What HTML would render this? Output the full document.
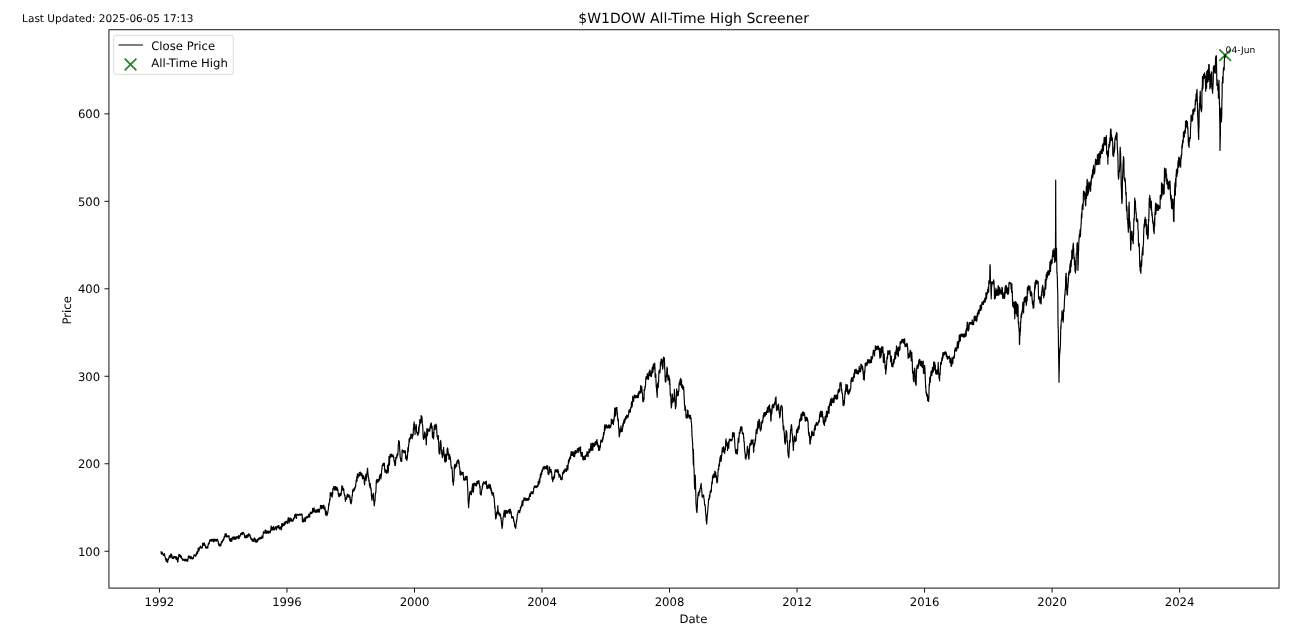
<!DOCTYPE html>
<html lang="en">
<head>
<meta charset="utf-8">
<title>$W1DOW All-Time High Screener</title>
<style>
html,body{margin:0;padding:0;background:#fff;}
body{width:1292px;height:634px;overflow:hidden;}
svg{display:block;}
text{font-family:"DejaVu Sans","Liberation Sans",sans-serif;fill:#000;text-rendering:geometricPrecision;}
.t10{font-size:11.67px;}
.t9{font-size:10.5px;}
.t12{font-size:14px;}
.t8{font-size:9.1px;}
.sp{stroke:#000;stroke-width:0.92;fill:none;}
</style>
</head>
<body>
<svg width="1292" height="634" viewBox="0 0 1292 634">
<rect x="0" y="0" width="1292" height="634" fill="#fff"/>
<!-- axes frame -->
<rect class="sp" x="108.94" y="29.75" width="1170.09" height="558.35"/>
<!-- x ticks -->
<g class="sp">
<path d="M159.45,588.1v4.5M286.97,588.1v4.5M414.49,588.1v4.5M542.01,588.1v4.5M669.53,588.1v4.5M797.05,588.1v4.5M924.57,588.1v4.5M1052.09,588.1v4.5M1179.61,588.1v4.5"/>
<path d="M108.94,551.24h-4.5M108.94,463.76h-4.5M108.94,376.28h-4.5M108.94,288.80h-4.5M108.94,201.33h-4.5M108.94,113.85h-4.5"/>
</g>
<g class="t10" text-anchor="middle">
<text x="159.45" y="605.6">1992</text>
<text x="286.97" y="605.6">1996</text>
<text x="414.49" y="605.6">2000</text>
<text x="542.01" y="605.6">2004</text>
<text x="669.53" y="605.6">2008</text>
<text x="797.05" y="605.6">2012</text>
<text x="924.57" y="605.6">2016</text>
<text x="1052.09" y="605.6">2020</text>
<text x="1179.61" y="605.6">2024</text>
<text x="693.4" y="623.1">Date</text>
</g>
<g class="t10" text-anchor="end">
<text x="100.2" y="555.64">100</text>
<text x="100.2" y="468.16">200</text>
<text x="100.2" y="380.68">300</text>
<text x="100.2" y="293.20">400</text>
<text x="100.2" y="205.73">500</text>
<text x="100.2" y="118.25">600</text>
</g>
<text class="t10" text-anchor="middle" transform="translate(70.9,310.4) rotate(-90)">Price</text>
<text class="t12" text-anchor="middle" x="693.6" y="22.8">$W1DOW All-Time High Screener</text>
<text class="t9" x="22.1" y="21.9">Last Updated: 2025-06-05 17:13</text>
<!-- all-time high marker -->
<path d="M1219.32,49.32l11.66,11.66M1219.32,60.98l11.66,-11.66" stroke="#1e8c1e" stroke-width="1.75" fill="none"/>
<!-- price line -->
<path id="price" fill="none" stroke="#000" stroke-width="1.17" stroke-linejoin="round" stroke-linecap="square" d="M161.1,551.9 161.2,553.1 161.4,554.2 161.5,553.7 161.6,553.3 161.7,552.8 161.9,553.3 162.0,553.2 162.1,553.8 162.2,552.0 162.4,553.5 162.5,553.3 162.6,553.9 162.7,553.7 162.9,553.3 163.0,553.7 163.1,554.4 163.2,554.2 163.4,555.5 163.5,555.3 163.6,554.6 163.8,555.6 163.9,555.7 164.0,554.6 164.1,554.5 164.3,554.8 164.4,554.4 164.5,553.7 164.6,554.4 164.8,555.9 164.9,556.3 165.0,556.3 165.1,557.3 165.3,557.4 165.4,558.1 165.5,559.3 165.6,559.4 165.8,559.0 165.9,559.6 166.0,560.1 166.2,561.4 166.3,560.6 166.4,560.3 166.5,559.9 166.7,558.7 166.8,559.1 166.9,559.8 167.0,559.5 167.2,561.0 167.3,562.0 167.4,562.0 167.5,562.5 167.7,561.1 167.8,561.3 167.9,561.5 168.0,559.6 168.2,559.6 168.3,559.1 168.4,559.4 168.5,558.7 168.7,558.4 168.8,558.4 168.9,557.3 169.1,556.8 169.2,556.7 169.3,555.8 169.4,556.3 169.6,556.4 169.7,555.7 169.8,555.9 169.9,556.5 170.1,557.7 170.2,555.8 170.3,556.1 170.4,556.1 170.6,555.5 170.7,554.1 170.8,554.8 170.9,555.4 171.1,556.7 171.2,555.3 171.3,555.1 171.5,554.1 171.6,554.4 171.7,555.8 171.8,557.8 172.0,556.3 172.1,555.8 172.2,556.6 172.3,558.1 172.5,558.5 172.6,558.0 172.7,558.3 172.8,558.4 173.0,558.3 173.1,557.8 173.2,558.2 173.3,558.6 173.5,558.1 173.6,556.7 173.7,556.7 173.8,556.8 174.0,556.3 174.1,557.8 174.2,556.9 174.4,556.7 174.5,557.5 174.6,557.3 174.7,556.6 174.9,557.6 175.0,556.7 175.1,557.9 175.2,556.9 175.4,557.6 175.5,557.1 175.6,557.0 175.7,556.8 175.9,557.2 176.0,558.3 176.1,558.5 176.2,559.5 176.4,559.3 176.5,559.7 176.6,558.0 176.8,556.9 176.9,557.8 177.0,557.4 177.1,558.1 177.3,558.7 177.4,560.0 177.5,560.9 177.6,562.0 177.8,562.0 177.9,561.6 178.0,561.1 178.1,559.6 178.3,558.7 178.4,558.2 178.5,557.9 178.6,557.2 178.8,555.0 178.9,554.5 179.0,554.4 179.1,554.7 179.3,554.8 179.4,554.9 179.5,556.0 179.7,554.7 179.8,554.5 179.9,555.3 180.0,556.7 180.2,555.5 180.3,555.4 180.4,556.1 180.5,556.8 180.7,557.2 180.8,557.6 180.9,556.5 181.0,556.5 181.2,556.1 181.3,556.4 181.4,556.2 181.5,556.9 181.7,557.9 181.8,558.4 181.9,558.9 182.1,559.2 182.2,559.0 182.3,559.0 182.4,558.8 182.6,559.4 182.7,559.6 182.8,560.3 182.9,559.3 183.1,560.3 183.2,559.9 183.3,559.4 183.4,559.5 183.6,559.8 183.7,559.3 183.8,559.4 183.9,560.1 184.1,559.0 184.2,559.0 184.3,559.9 184.4,559.8 184.6,560.9 184.7,559.5 184.8,560.8 185.0,560.4 185.1,559.9 185.2,561.0 185.3,560.8 185.5,559.9 185.6,559.4 185.7,559.2 185.8,559.5 186.0,559.7 186.1,560.0 186.2,559.9 186.3,560.5 186.5,559.8 186.6,560.5 186.7,559.4 186.8,559.7 187.0,561.1 187.1,560.8 187.2,561.3 187.4,560.8 187.5,561.3 187.6,561.2 187.7,561.2 187.9,559.1 188.0,559.2 188.1,558.2 188.2,557.5 188.4,556.2 188.5,556.9 188.6,557.8 188.7,557.1 188.9,555.9 189.0,555.8 189.1,556.7 189.2,557.2 189.4,557.1 189.5,556.7 189.6,557.1 189.7,556.8 189.9,556.3 190.0,557.1 190.1,558.5 190.3,558.7 190.4,558.7 190.5,558.4 190.6,558.3 190.8,556.8 190.9,557.2 191.0,556.6 191.1,556.4 191.3,557.0 191.4,557.9 191.5,557.6 191.6,558.2 191.8,558.7 191.9,558.0 192.0,558.4 192.1,558.6 192.3,558.4 192.4,558.8 192.5,557.9 192.6,558.7 192.8,558.9 192.9,558.7 193.0,557.5 193.2,558.4 193.3,558.5 193.4,557.3 193.5,557.6 193.7,557.1 193.8,555.2 193.9,555.5 194.0,555.5 194.2,555.1 194.3,555.1 194.4,555.3 194.5,555.0 194.7,555.4 194.8,555.4 194.9,555.3 195.0,555.4 195.2,555.7 195.3,554.9 195.4,556.2 195.6,556.3 195.7,555.9 195.8,556.1 195.9,555.5 196.1,555.6 196.2,554.8 196.3,555.0 196.4,553.3 196.6,554.4 196.7,553.8 196.8,552.2 196.9,551.9 197.1,551.5 197.2,551.5 197.3,552.7 197.4,552.5 197.6,553.6 197.7,552.3 197.8,551.7 197.9,551.6 198.1,549.6 198.2,548.2 198.3,548.4 198.5,548.1 198.6,549.4 198.7,548.5 198.8,548.4 199.0,550.9 199.1,549.9 199.2,548.8 199.3,548.5 199.5,548.2 199.6,548.7 199.7,548.6 199.8,547.6 200.0,546.5 200.1,546.5 200.2,547.5 200.3,547.0 200.5,546.3 200.6,546.1 200.7,546.7 200.9,546.9 201.0,547.5 201.1,548.0 201.2,547.8 201.4,547.3 201.5,547.3 201.6,548.1 201.7,548.0 201.9,547.6 202.0,547.9 202.1,548.1 202.2,547.8 202.4,546.6 202.5,545.6 202.6,543.6 202.7,543.2 202.9,543.5 203.0,543.1 203.1,543.8 203.2,543.9 203.4,544.0 203.5,544.9 203.6,545.5 203.8,545.2 203.9,543.9 204.0,543.8 204.1,543.1 204.3,544.5 204.4,543.4 204.5,543.0 204.6,544.5 204.8,544.9 204.9,545.6 205.0,544.6 205.1,545.6 205.3,545.6 205.4,546.5 205.5,547.5 205.6,547.7 205.8,547.5 205.9,548.2 206.0,547.8 206.2,547.9 206.3,547.1 206.4,547.6 206.5,547.8 206.7,546.9 206.8,546.6 206.9,547.3 207.0,548.1 207.2,548.1 207.3,548.1 207.4,547.6 207.5,547.3 207.7,546.6 207.8,546.4 207.9,547.9 208.0,545.3 208.2,544.3 208.3,544.2 208.4,543.2 208.5,543.1 208.7,544.3 208.8,544.2 208.9,544.1 209.1,544.0 209.2,542.7 209.3,542.8 209.4,542.1 209.6,540.8 209.7,540.2 209.8,539.8 209.9,539.8 210.1,540.1 210.2,541.1 210.3,540.1 210.4,539.8 210.6,540.7 210.7,540.9 210.8,540.8 210.9,540.9 211.1,540.2 211.2,539.7 211.3,541.0 211.5,540.7 211.6,540.6 211.7,541.1 211.8,540.2 212.0,539.2 212.1,539.7 212.2,539.9 212.3,539.7 212.5,539.7 212.6,539.5 212.7,540.8 212.8,540.4 213.0,540.2 213.1,540.4 213.2,539.2 213.3,541.0 213.5,541.9 213.6,541.5 213.7,541.5 213.8,540.9 214.0,541.6 214.1,539.4 214.2,539.4 214.4,539.5 214.5,539.3 214.6,540.4 214.7,539.6 214.9,539.5 215.0,539.3 215.1,540.0 215.2,540.7 215.4,539.8 215.5,539.7 215.6,539.7 215.7,540.2 215.9,539.9 216.0,539.9 216.1,541.1 216.2,539.3 216.4,540.1 216.5,540.2 216.6,539.9 216.8,540.9 216.9,540.1 217.0,539.5 217.1,539.3 217.3,539.4 217.4,540.1 217.5,539.6 217.6,539.3 217.8,540.7 217.9,540.9 218.0,540.8 218.1,541.5 218.3,542.3 218.4,544.0 218.5,543.3 218.6,545.0 218.8,545.2 218.9,543.6 219.0,544.2 219.1,543.8 219.3,544.7 219.4,544.1 219.5,545.9 219.7,545.7 219.8,545.0 219.9,544.6 220.0,545.8 220.2,546.0 220.3,545.5 220.4,544.1 220.5,545.3 220.7,545.9 220.8,545.5 220.9,545.7 221.0,544.6 221.2,543.5 221.3,542.6 221.4,542.5 221.5,541.3 221.7,541.7 221.8,542.1 221.9,541.9 222.1,542.6 222.2,541.9 222.3,541.4 222.4,541.5 222.6,541.1 222.7,541.5 222.8,539.8 222.9,540.9 223.1,539.7 223.2,539.1 223.3,540.5 223.4,540.3 223.6,539.3 223.7,539.2 223.8,539.7 223.9,538.5 224.1,537.8 224.2,536.5 224.3,537.5 224.4,537.5 224.6,537.2 224.7,537.5 224.8,536.2 225.0,535.0 225.1,533.7 225.2,534.1 225.3,534.2 225.5,534.6 225.6,534.7 225.7,535.1 225.8,534.8 226.0,536.2 226.1,536.6 226.2,535.3 226.3,533.9 226.5,535.3 226.6,535.5 226.7,535.4 226.8,536.8 227.0,536.5 227.1,536.6 227.2,536.5 227.4,536.1 227.5,536.5 227.6,536.4 227.7,536.6 227.9,536.8 228.0,536.3 228.1,536.6 228.2,536.1 228.4,536.5 228.5,536.3 228.6,536.4 228.7,536.7 228.9,536.5 229.0,535.6 229.1,536.2 229.2,538.3 229.4,538.4 229.5,540.0 229.6,540.6 229.7,539.6 229.9,539.6 230.0,538.8 230.1,539.9 230.3,538.9 230.4,540.6 230.5,541.5 230.6,539.5 230.8,540.7 230.9,539.9 231.0,541.1 231.1,539.3 231.3,539.7 231.4,538.1 231.5,538.7 231.6,539.3 231.8,540.7 231.9,541.2 232.0,538.8 232.1,539.3 232.3,538.3 232.4,538.2 232.5,538.2 232.6,538.8 232.8,537.2 232.9,537.7 233.0,537.9 233.2,536.8 233.3,537.8 233.4,539.1 233.5,538.5 233.7,538.5 233.8,538.7 233.9,539.0 234.0,537.5 234.2,537.4 234.3,537.2 234.4,537.2 234.5,538.5 234.7,539.3 234.8,537.6 234.9,537.3 235.0,536.8 235.2,537.4 235.3,537.4 235.4,538.8 235.6,539.2 235.7,538.1 235.8,539.1 235.9,538.4 236.1,538.1 236.2,537.7 236.3,538.9 236.4,537.1 236.6,536.7 236.7,537.1 236.8,537.4 236.9,536.7 237.1,536.8 237.2,536.9 237.3,536.6 237.4,536.9 237.6,537.8 237.7,538.0 237.8,537.8 237.9,537.6 238.1,536.8 238.2,537.0 238.3,538.4 238.5,536.6 238.6,535.5 238.7,535.5 238.8,538.1 239.0,538.7 239.1,538.1 239.2,538.3 239.3,537.3 239.5,536.0 239.6,536.1 239.7,536.4 239.8,535.8 240.0,536.4 240.1,536.1 240.2,536.1 240.3,535.3 240.5,534.0 240.6,535.0 240.7,533.7 240.9,534.7 241.0,533.4 241.1,534.3 241.2,534.4 241.4,533.9 241.5,532.9 241.6,533.2 241.7,533.2 241.9,533.5 242.0,534.0 242.1,533.2 242.2,534.6 242.4,532.7 242.5,533.0 242.6,534.3 242.7,532.7 242.9,533.5 243.0,533.3 243.1,532.3 243.2,532.3 243.4,532.8 243.5,533.1 243.6,533.0 243.8,533.1 243.9,533.4 244.0,533.3 244.1,534.2 244.3,535.2 244.4,534.7 244.5,534.8 244.6,537.5 244.8,537.6 244.9,537.7 245.0,535.6 245.1,535.6 245.3,536.9 245.4,536.2 245.5,537.3 245.6,537.7 245.8,537.5 245.9,537.7 246.0,536.9 246.2,536.3 246.3,535.5 246.4,536.8 246.5,536.0 246.7,535.3 246.8,537.6 246.9,536.9 247.0,537.6 247.2,537.1 247.3,534.9 247.4,534.8 247.5,535.0 247.7,535.6 247.8,535.1 247.9,535.9 248.0,536.9 248.2,535.2 248.3,536.2 248.4,535.9 248.5,534.6 248.7,533.7 248.8,535.4 248.9,534.0 249.1,534.6 249.2,535.1 249.3,535.5 249.4,535.5 249.6,534.4 249.7,535.9 249.8,535.5 249.9,535.6 250.1,535.5 250.2,535.3 250.3,536.7 250.4,537.7 250.6,537.5 250.7,537.1 250.8,537.1 250.9,538.8 251.1,539.2 251.2,539.1 251.3,539.1 251.5,539.5 251.6,538.5 251.7,539.7 251.8,539.1 252.0,538.7 252.1,540.3 252.2,540.8 252.3,541.1 252.5,540.7 252.6,541.0 252.7,540.3 252.8,541.2 253.0,539.6 253.1,540.6 253.2,541.3 253.3,540.6 253.5,540.5 253.6,539.6 253.7,540.3 253.8,541.3 254.0,539.6 254.1,538.4 254.2,537.8 254.4,538.2 254.5,538.0 254.6,538.8 254.7,539.6 254.9,539.2 255.0,538.3 255.1,540.2 255.2,542.0 255.4,541.2 255.5,540.1 255.6,539.6 255.7,541.3 255.9,541.5 256.0,541.1 256.1,541.6 256.2,541.3 256.4,542.3 256.5,542.2 256.6,541.5 256.8,541.0 256.9,540.0 257.0,540.2 257.1,539.6 257.3,541.9 257.4,541.6 257.5,541.3 257.6,539.8 257.8,539.0 257.9,539.4 258.0,539.1 258.1,539.8 258.3,540.1 258.4,539.0 258.5,539.7 258.6,539.8 258.8,539.6 258.9,538.4 259.0,539.1 259.1,537.8 259.3,538.1 259.4,537.7 259.5,538.5 259.7,538.8 259.8,539.1 259.9,538.4 260.0,538.3 260.2,538.3 260.3,537.4 260.4,538.8 260.5,538.8 260.7,538.0 260.8,537.4 260.9,537.7 261.0,538.0 261.2,537.9 261.3,538.7 261.4,537.8 261.5,538.1 261.7,538.2 261.8,537.4 261.9,535.9 262.1,536.0 262.2,536.0 262.3,536.3 262.4,538.1 262.6,537.2 262.7,537.9 262.8,538.0 262.9,537.4 263.1,535.0 263.2,533.5 263.3,533.1 263.4,531.6 263.6,532.5 263.7,532.2 263.8,532.2 263.9,532.9 264.1,532.4 264.2,532.8 264.3,533.0 264.4,532.4 264.6,533.1 264.7,531.8 264.8,531.8 265.0,531.1 265.1,530.8 265.2,529.9 265.3,531.8 265.5,530.4 265.6,531.0 265.7,531.9 265.8,532.7 266.0,533.4 266.1,532.1 266.2,533.2 266.3,533.4 266.5,532.3 266.6,532.8 266.7,531.6 266.8,530.7 267.0,530.8 267.1,532.7 267.2,532.6 267.4,532.7 267.5,532.3 267.6,532.8 267.7,532.8 267.9,532.1 268.0,533.1 268.1,531.4 268.2,533.2 268.4,531.4 268.5,532.8 268.6,533.2 268.7,533.2 268.9,531.4 269.0,531.2 269.1,532.1 269.2,532.4 269.4,532.1 269.5,532.3 269.6,531.7 269.7,532.2 269.9,531.0 270.0,532.7 270.1,531.5 270.3,532.7 270.4,530.8 270.5,531.3 270.6,530.4 270.8,530.6 270.9,529.9 271.0,527.3 271.1,526.1 271.3,526.2 271.4,527.0 271.5,528.1 271.6,529.1 271.8,529.2 271.9,529.9 272.0,529.3 272.1,529.7 272.3,528.4 272.4,527.4 272.5,528.5 272.6,528.3 272.8,528.4 272.9,530.0 273.0,528.9 273.2,528.7 273.3,529.2 273.4,527.4 273.5,526.4 273.7,527.3 273.8,528.9 273.9,529.8 274.0,528.4 274.2,528.0 274.3,529.3 274.4,529.0 274.5,529.1 274.7,529.8 274.8,528.6 274.9,527.9 275.0,528.5 275.2,527.8 275.3,527.6 275.4,528.1 275.6,526.9 275.7,526.7 275.8,528.0 275.9,526.8 276.1,527.6 276.2,527.2 276.3,529.5 276.4,529.9 276.6,528.8 276.7,527.2 276.8,526.7 276.9,526.7 277.1,526.1 277.2,526.0 277.3,526.9 277.4,526.4 277.6,526.0 277.7,526.0 277.8,526.0 277.9,527.1 278.1,527.8 278.2,526.6 278.3,526.4 278.5,527.1 278.6,525.7 278.7,526.5 278.8,527.5 279.0,525.7 279.1,528.5 279.2,528.7 279.3,528.6 279.5,528.9 279.6,528.0 279.7,527.7 279.8,528.6 280.0,529.2 280.1,528.6 280.2,528.0 280.3,527.6 280.5,526.9 280.6,527.0 280.7,527.7 280.9,527.0 281.0,527.0 281.1,528.1 281.2,529.3 281.4,529.7 281.5,529.8 281.6,527.4 281.7,523.6 281.9,526.1 282.0,527.1 282.1,527.0 282.2,524.8 282.4,523.7 282.5,524.8 282.6,525.6 282.7,526.0 282.9,525.0 283.0,524.9 283.1,524.0 283.2,524.2 283.4,525.6 283.5,524.3 283.6,524.3 283.8,524.1 283.9,524.6 284.0,524.5 284.1,523.7 284.3,522.0 284.4,523.6 284.5,525.2 284.6,523.4 284.8,524.1 284.9,524.8 285.0,523.2 285.1,522.7 285.3,523.3 285.4,523.8 285.5,521.8 285.6,521.9 285.8,521.7 285.9,521.7 286.0,521.5 286.2,521.0 286.3,521.6 286.4,521.6 286.5,521.7 286.7,522.6 286.8,522.9 286.9,521.5 287.0,521.6 287.2,521.6 287.3,523.2 287.4,523.4 287.5,523.6 287.7,523.1 287.8,522.0 287.9,519.2 288.0,521.1 288.2,518.5 288.3,517.6 288.4,517.9 288.5,517.9 288.7,518.2 288.8,518.6 288.9,519.8 289.1,519.7 289.2,522.9 289.3,521.1 289.4,520.9 289.6,519.9 289.7,518.7 289.8,518.6 289.9,518.1 290.1,519.1 290.2,518.2 290.3,518.2 290.4,520.7 290.6,520.8 290.7,520.6 290.8,521.1 290.9,520.8 291.1,521.1 291.2,520.0 291.3,519.9 291.5,519.7 291.6,519.3 291.7,518.7 291.8,520.9 292.0,521.1 292.1,519.9 292.2,520.8 292.3,520.7 292.5,521.1 292.6,520.6 292.7,520.4 292.8,521.3 293.0,520.9 293.1,520.9 293.2,520.3 293.3,519.5 293.5,519.8 293.6,518.3 293.7,518.1 293.8,519.0 294.0,519.1 294.1,517.9 294.2,517.2 294.4,517.3 294.5,517.9 294.6,517.2 294.7,514.8 294.9,516.2 295.0,516.0 295.1,516.0 295.2,515.8 295.4,514.1 295.5,515.1 295.6,515.3 295.7,514.5 295.9,515.0 296.0,517.9 296.1,517.0 296.2,516.9 296.4,518.0 296.5,518.4 296.6,516.4 296.8,515.0 296.9,514.1 297.0,514.8 297.1,514.4 297.3,515.1 297.4,515.0 297.5,514.5 297.6,515.0 297.8,514.7 297.9,514.8 298.0,514.7 298.1,515.2 298.3,515.0 298.4,514.6 298.5,515.0 298.6,515.2 298.8,515.2 298.9,514.8 299.0,514.8 299.1,514.7 299.3,514.8 299.4,514.1 299.5,515.2 299.7,514.0 299.8,514.6 299.9,514.0 300.0,514.2 300.2,514.8 300.3,514.5 300.4,514.3 300.5,515.1 300.7,515.2 300.8,514.9 300.9,515.1 301.0,514.8 301.2,514.1 301.3,515.0 301.4,514.4 301.5,513.9 301.7,514.6 301.8,514.8 301.9,514.0 302.1,514.4 302.2,516.2 302.3,518.7 302.4,521.7 302.6,521.8 302.7,520.8 302.8,517.9 302.9,518.0 303.1,519.6 303.2,520.7 303.3,521.5 303.4,521.7 303.6,521.4 303.7,521.7 303.8,521.9 303.9,521.1 304.1,519.8 304.2,520.1 304.3,519.9 304.4,520.0 304.6,519.1 304.7,518.2 304.8,518.5 305.0,517.6 305.1,521.4 305.2,521.4 305.3,521.1 305.5,521.0 305.6,520.1 305.7,517.5 305.8,517.7 306.0,518.7 306.1,517.3 306.2,517.8 306.3,516.8 306.5,517.3 306.6,517.6 306.7,516.9 306.8,517.8 307.0,516.5 307.1,517.0 307.2,516.4 307.4,517.0 307.5,516.7 307.6,517.2 307.7,516.3 307.9,517.7 308.0,516.9 308.1,516.7 308.2,516.8 308.4,516.7 308.5,517.0 308.6,515.9 308.7,514.1 308.9,515.6 309.0,516.2 309.1,516.1 309.2,515.6 309.4,516.2 309.5,516.7 309.6,517.0 309.7,517.2 309.9,514.7 310.0,513.5 310.1,512.7 310.2,512.6 310.4,512.9 310.5,512.8 310.6,512.0 310.7,513.5 310.9,513.6 311.0,513.6 311.1,512.1 311.2,512.6 311.3,513.4 311.5,512.3 311.6,512.7 311.7,512.3 311.8,512.5 312.0,513.5 312.1,512.5 312.2,512.5 312.3,512.5 312.5,512.0 312.6,509.2 312.7,508.3 312.8,508.9 313.0,509.0 313.1,508.6 313.2,509.4 313.3,510.6 313.5,511.9 313.6,511.0 313.7,511.2 313.8,510.9 314.0,509.9 314.1,507.9 314.2,508.0 314.3,511.2 314.4,511.3 314.6,511.3 314.7,510.9 314.8,511.0 314.9,512.1 315.1,512.0 315.2,511.9 315.3,512.0 315.4,512.2 315.5,510.9 315.7,512.2 315.8,512.4 315.9,509.9 316.0,510.4 316.2,510.4 316.3,511.4 316.4,509.9 316.5,510.0 316.6,511.9 316.8,511.5 316.9,511.9 317.0,511.9 317.1,511.1 317.3,509.9 317.4,510.3 317.5,509.7 317.6,512.1 317.8,510.8 317.9,510.5 318.0,509.0 318.1,510.1 318.2,509.7 318.4,509.4 318.5,509.5 318.6,512.0 318.7,511.8 318.9,512.0 319.0,510.4 319.1,511.4 319.2,511.5 319.4,512.1 319.5,511.0 319.6,509.2 319.7,509.5 319.8,509.5 320.0,509.1 320.1,508.8 320.2,508.8 320.3,508.2 320.5,505.5 320.6,506.7 320.7,505.4 320.8,505.8 321.0,506.0 321.1,505.5 321.2,507.7 321.3,505.8 321.4,505.5 321.6,506.7 321.7,508.7 321.8,507.7 321.9,506.8 322.1,506.2 322.2,506.1 322.3,507.9 322.4,507.3 322.6,507.3 322.7,507.9 322.8,505.5 322.9,505.5 323.1,506.3 323.2,506.4 323.3,505.6 323.4,508.0 323.5,508.2 323.7,506.0 323.8,505.0 323.9,506.3 324.0,509.1 324.2,508.7 324.3,507.3 324.4,509.2 324.6,509.7 324.7,508.3 324.8,507.2 324.9,507.0 325.1,508.8 325.2,508.8 325.3,510.1 325.4,512.8 325.6,515.0 325.7,514.5 325.8,512.4 326.0,514.3 326.1,512.2 326.2,511.3 326.3,511.1 326.5,512.2 326.6,514.1 326.7,515.3 326.8,514.9 327.0,515.7 327.1,514.9 327.2,514.5 327.3,513.4 327.5,512.5 327.6,513.8 327.7,512.6 327.8,512.8 328.0,510.7 328.1,510.5 328.2,510.0 328.3,509.6 328.5,508.2 328.6,506.1 328.7,505.0 328.8,503.7 329.0,504.5 329.1,505.1 329.2,502.8 329.3,503.0 329.5,501.6 329.6,501.6 329.7,498.8 329.8,499.8 330.0,500.0 330.1,497.5 330.2,494.0 330.3,492.6 330.4,494.4 330.6,495.5 330.7,495.1 330.8,493.4 330.9,494.5 331.1,493.0 331.2,492.9 331.3,493.0 331.4,496.1 331.6,495.3 331.7,495.0 331.8,492.8 331.9,494.5 332.1,495.1 332.2,497.2 332.3,495.0 332.4,494.7 332.5,493.8 332.7,494.2 332.8,488.7 332.9,490.5 333.0,488.5 333.2,489.3 333.3,488.1 333.4,488.0 333.5,488.6 333.7,488.4 333.8,486.4 333.9,488.2 334.0,488.4 334.1,487.9 334.3,488.6 334.4,487.3 334.5,489.9 334.6,489.8 334.8,489.9 334.9,490.0 335.0,488.1 335.1,486.7 335.3,486.8 335.4,486.7 335.5,487.4 335.6,487.6 335.8,486.7 335.9,487.9 336.0,489.6 336.1,490.2 336.3,488.2 336.4,490.1 336.5,488.9 336.6,489.9 336.7,487.3 336.9,488.6 337.0,487.3 337.1,489.1 337.2,490.0 337.4,488.1 337.5,490.0 337.6,490.5 337.7,489.1 337.9,490.2 338.0,491.0 338.1,492.0 338.2,493.4 338.4,495.0 338.5,495.5 338.6,495.1 338.7,494.3 338.9,496.7 339.0,495.4 339.1,494.8 339.2,493.5 339.3,494.3 339.5,496.5 339.6,496.3 339.7,496.0 339.8,495.7 340.0,494.1 340.1,494.1 340.2,493.9 340.3,493.8 340.5,494.3 340.6,493.6 340.7,493.2 340.8,495.3 340.9,494.5 341.1,495.1 341.2,494.5 341.3,493.0 341.4,491.5 341.6,489.5 341.7,488.8 341.8,487.1 341.9,485.7 342.0,487.0 342.2,486.0 342.3,487.1 342.4,486.9 342.5,486.6 342.7,486.7 342.8,489.3 342.9,490.3 343.0,489.7 343.2,489.7 343.3,488.7 343.4,490.3 343.5,488.5 343.7,488.8 343.8,489.8 343.9,491.4 344.0,492.7 344.2,494.3 344.3,494.3 344.4,493.9 344.5,495.6 344.6,494.8 344.8,495.1 344.9,495.9 345.0,496.1 345.1,498.4 345.2,499.5 345.4,501.3 345.5,499.5 345.6,499.7 345.7,499.7 345.9,498.4 346.0,498.3 346.1,498.0 346.2,497.7 346.4,499.5 346.5,498.3 346.6,498.4 346.7,498.4 346.8,497.4 347.0,495.0 347.1,495.5 347.2,495.3 347.3,494.7 347.5,495.2 347.6,494.2 347.7,495.0 347.8,495.5 348.0,495.1 348.1,497.1 348.2,497.2 348.3,495.7 348.4,495.8 348.6,496.1 348.7,494.9 348.8,495.0 348.9,495.3 349.1,495.5 349.2,495.3 349.3,496.7 349.4,495.6 349.6,497.2 349.7,495.9 349.8,497.2 349.9,496.2 350.0,499.8 350.2,497.9 350.3,500.4 350.4,502.3 350.5,500.3 350.7,500.6 350.8,503.4 350.9,501.8 351.0,503.7 351.2,503.8 351.3,502.6 351.4,500.4 351.5,502.0 351.7,500.9 351.8,499.3 351.9,497.5 352.0,497.3 352.1,497.1 352.3,494.4 352.4,495.5 352.5,492.5 352.6,490.8 352.8,490.2 352.9,491.7 353.0,489.9 353.1,489.0 353.3,489.8 353.4,491.0 353.5,490.9 353.6,491.2 353.7,490.9 353.9,490.0 354.0,490.8 354.1,488.8 354.2,490.1 354.4,487.8 354.5,489.6 354.6,489.6 354.7,487.8 354.9,487.7 355.0,488.8 355.1,487.2 355.2,487.7 355.4,486.8 355.5,485.9 355.6,485.1 355.7,486.3 355.8,483.6 356.0,482.3 356.1,482.7 356.2,480.0 356.3,480.5 356.5,480.0 356.6,479.3 356.7,479.1 356.8,476.9 357.0,481.1 357.1,479.4 357.2,478.1 357.3,475.1 357.4,473.9 357.6,476.1 357.7,475.7 357.8,476.3 357.9,474.9 358.1,477.7 358.2,477.5 358.3,474.8 358.4,475.7 358.6,474.6 358.7,475.2 358.8,475.0 358.9,475.0 359.0,474.7 359.2,472.7 359.3,474.8 359.4,475.0 359.5,475.9 359.7,475.5 359.8,472.3 359.9,473.1 360.0,473.3 360.2,472.3 360.3,472.0 360.4,473.7 360.5,474.2 360.7,474.5 360.8,474.5 360.9,474.2 361.0,474.9 361.1,475.6 361.3,475.2 361.4,474.2 361.5,474.0 361.6,473.0 361.8,473.8 361.9,474.5 362.0,473.7 362.1,476.0 362.3,477.0 362.4,478.5 362.5,477.1 362.6,478.8 362.7,476.2 362.9,476.0 363.0,478.4 363.1,478.5 363.2,475.4 363.4,476.3 363.5,478.3 363.6,477.1 363.7,476.0 363.9,478.0 364.0,477.8 364.1,478.4 364.2,480.1 364.3,483.4 364.5,482.9 364.6,484.8 364.7,483.9 364.8,481.6 364.9,479.7 365.1,479.8 365.2,477.6 365.3,478.6 365.4,477.0 365.6,476.5 365.7,475.8 365.8,474.6 365.9,474.2 366.1,475.5 366.2,480.4 366.3,477.7 366.5,477.6 366.6,476.7 366.7,474.5 366.8,474.4 367.0,472.2 367.1,471.5 367.2,473.1 367.3,468.9 367.5,468.7 367.6,468.2 367.7,470.3 367.8,472.1 367.9,472.7 368.1,476.1 368.2,474.9 368.3,477.3 368.4,478.1 368.5,477.3 368.7,478.2 368.8,478.8 368.9,481.5 369.0,480.0 369.2,480.2 369.3,483.8 369.4,482.9 369.5,485.7 369.6,483.7 369.8,485.3 369.9,486.1 370.0,487.7 370.1,487.5 370.3,485.2 370.4,483.5 370.5,486.7 370.6,488.1 370.8,487.6 370.9,490.1 371.0,489.8 371.1,488.7 371.3,491.5 371.4,495.4 371.5,494.7 371.6,496.0 371.7,498.4 371.9,500.1 372.0,499.7 372.1,500.0 372.2,497.0 372.4,497.0 372.5,496.6 372.6,497.0 372.7,495.4 372.9,495.4 373.0,493.8 373.1,494.7 373.2,494.8 373.4,493.3 373.5,496.5 373.6,498.9 373.7,500.9 373.9,500.6 374.0,500.8 374.1,504.0 374.2,505.8 374.4,505.2 374.5,504.4 374.6,503.0 374.7,500.5 374.8,501.3 375.0,501.2 375.1,499.8 375.2,496.3 375.3,494.4 375.5,493.3 375.6,493.6 375.7,492.0 375.8,492.6 375.9,491.8 376.1,486.6 376.2,484.1 376.3,481.1 376.4,480.4 376.6,480.4 376.7,482.2 376.8,481.7 376.9,479.3 377.0,482.7 377.2,482.7 377.3,481.8 377.4,480.8 377.5,480.2 377.7,479.7 377.8,479.5 377.9,480.9 378.0,481.9 378.2,479.7 378.3,480.3 378.4,481.2 378.5,481.3 378.6,480.7 378.8,480.4 378.9,479.7 379.0,480.8 379.1,480.7 379.3,477.3 379.4,477.3 379.5,479.7 379.6,476.4 379.8,475.0 379.9,475.0 380.0,474.8 380.1,475.7 380.3,474.1 380.4,475.4 380.5,476.9 380.6,475.4 380.7,476.3 380.9,479.0 381.0,478.0 381.1,477.4 381.2,475.2 381.4,475.2 381.5,474.2 381.6,470.6 381.7,469.8 381.9,469.6 382.0,469.3 382.1,466.4 382.2,465.5 382.3,466.2 382.5,464.9 382.6,465.3 382.7,466.0 382.8,464.2 383.0,463.6 383.1,465.5 383.2,465.3 383.3,464.1 383.5,464.0 383.6,463.8 383.7,464.5 383.8,465.3 383.9,463.0 384.1,464.2 384.2,463.5 384.3,463.2 384.4,463.3 384.6,468.2 384.7,470.3 384.8,470.1 384.9,472.2 385.1,472.5 385.2,469.6 385.3,469.8 385.4,470.1 385.6,471.9 385.7,470.3 385.8,470.7 385.9,470.0 386.0,471.4 386.2,470.5 386.3,470.4 386.4,472.2 386.5,472.0 386.7,473.5 386.8,473.0 386.9,472.1 387.0,470.6 387.2,469.9 387.3,471.9 387.4,469.2 387.5,465.6 387.6,465.0 387.8,467.6 387.9,469.1 388.0,471.0 388.1,472.8 388.3,471.0 388.4,470.7 388.5,465.2 388.6,463.5 388.8,464.2 388.9,459.6 389.0,456.5 389.1,456.4 389.3,458.2 389.4,462.8 389.5,465.1 389.6,461.6 389.7,456.6 389.9,456.4 390.0,457.9 390.1,454.3 390.2,454.7 390.4,456.0 390.5,456.4 390.6,457.3 390.7,456.7 390.9,455.1 391.0,455.4 391.1,454.4 391.2,456.5 391.3,454.0 391.5,455.9 391.6,455.3 391.7,455.3 391.8,456.5 392.0,454.9 392.1,455.7 392.2,455.7 392.3,455.3 392.5,455.5 392.6,455.7 392.7,455.3 392.8,456.5 392.9,454.9 393.1,455.2 393.2,456.3 393.3,457.4 393.4,456.5 393.6,456.6 393.7,456.7 393.8,459.1 393.9,459.0 394.1,461.2 394.2,461.4 394.3,461.4 394.4,462.5 394.6,463.2 394.7,460.6 394.8,465.5 394.9,464.5 395.1,464.2 395.2,464.0 395.3,464.2 395.4,465.5 395.6,463.6 395.7,457.7 395.8,457.3 395.9,457.7 396.0,459.5 396.2,457.9 396.3,457.2 396.4,457.9 396.5,457.1 396.7,456.5 396.8,456.8 396.9,454.7 397.0,457.7 397.1,455.8 397.3,455.7 397.4,454.9 397.5,453.4 397.6,454.3 397.8,455.3 397.9,454.5 398.0,451.5 398.1,451.3 398.2,446.2 398.4,444.3 398.5,443.3 398.6,442.5 398.7,440.5 398.9,444.9 399.0,444.9 399.1,442.6 399.2,441.1 399.4,442.1 399.5,445.6 399.6,446.6 399.7,450.1 399.9,451.6 400.0,453.6 400.1,456.6 400.2,456.9 400.4,458.5 400.5,458.7 400.6,458.4 400.7,460.7 400.9,460.1 401.0,461.2 401.1,460.8 401.2,459.5 401.4,461.4 401.5,461.3 401.6,461.2 401.7,461.6 401.8,458.2 402.0,455.7 402.1,449.9 402.2,449.7 402.3,450.1 402.4,451.1 402.6,451.4 402.7,450.8 402.8,451.7 402.9,451.5 403.1,451.9 403.2,450.7 403.3,451.4 403.4,452.1 403.6,451.3 403.7,450.8 403.8,452.0 403.9,452.3 404.0,450.9 404.2,452.9 404.3,451.9 404.4,451.4 404.5,451.0 404.7,451.5 404.8,451.2 404.9,452.1 405.0,450.8 405.2,452.6 405.3,450.8 405.4,450.9 405.5,452.3 405.6,458.4 405.8,456.1 405.9,455.1 406.0,455.8 406.1,459.0 406.3,459.0 406.4,456.6 406.5,459.5 406.6,458.1 406.7,458.2 406.9,460.5 407.0,459.6 407.1,459.2 407.2,458.1 407.4,458.0 407.5,455.4 407.6,454.4 407.7,451.5 407.9,447.6 408.0,450.5 408.1,450.7 408.2,451.8 408.4,449.2 408.5,448.4 408.6,444.8 408.7,445.5 408.9,443.5 409.0,442.5 409.1,438.8 409.2,440.4 409.3,441.5 409.5,441.9 409.6,439.4 409.7,437.8 409.8,439.9 410.0,438.8 410.1,438.9 410.2,438.7 410.3,437.9 410.5,438.5 410.6,438.2 410.7,437.2 410.8,434.3 410.9,434.4 411.1,434.0 411.2,434.7 411.3,437.3 411.4,437.1 411.6,435.4 411.7,435.7 411.8,434.5 411.9,435.6 412.1,436.5 412.2,438.8 412.3,436.5 412.4,434.6 412.6,434.3 412.7,436.2 412.8,435.5 412.9,436.2 413.1,435.2 413.2,433.0 413.3,430.7 413.4,428.1 413.6,428.7 413.7,426.1 413.8,423.7 413.9,424.2 414.1,425.3 414.2,421.9 414.3,424.4 414.5,425.4 414.6,427.5 414.7,430.0 414.9,427.4 415.0,434.6 415.1,433.9 415.2,428.7 415.4,429.1 415.5,429.0 415.6,427.1 415.7,426.7 415.9,428.6 416.0,426.9 416.1,424.3 416.2,426.0 416.4,425.7 416.5,431.3 416.6,432.0 416.7,431.9 416.9,432.9 417.0,432.3 417.1,433.1 417.2,433.8 417.4,432.6 417.5,432.4 417.6,433.4 417.8,434.6 417.9,435.3 418.0,434.9 418.1,435.0 418.2,433.1 418.4,431.4 418.5,432.8 418.6,427.2 418.7,427.0 418.8,433.1 419.0,427.8 419.1,430.2 419.2,425.0 419.3,424.7 419.5,424.4 419.6,426.1 419.7,423.0 419.8,419.5 420.0,421.2 420.1,420.2 420.2,420.2 420.3,420.7 420.5,421.6 420.6,422.8 420.7,423.1 420.9,419.1 421.0,422.5 421.1,415.8 421.2,415.6 421.3,416.3 421.5,416.3 421.6,416.6 421.7,417.7 421.8,418.2 422.0,416.8 422.1,420.0 422.2,419.8 422.3,424.2 422.4,425.0 422.6,424.5 422.7,426.7 422.8,427.6 422.9,430.0 423.1,436.3 423.2,437.0 423.3,438.2 423.5,439.4 423.6,439.1 423.7,439.3 423.9,438.5 424.0,438.6 424.1,438.5 424.2,437.9 424.4,433.7 424.5,433.8 424.6,434.9 424.7,431.9 424.9,432.6 425.0,433.9 425.1,435.5 425.2,433.1 425.4,437.2 425.5,436.1 425.6,436.8 425.7,436.5 425.9,438.4 426.0,440.2 426.1,441.1 426.2,445.0 426.4,443.4 426.5,436.3 426.6,435.0 426.7,433.6 426.8,431.0 427.0,428.4 427.1,429.0 427.2,430.5 427.3,434.0 427.4,435.8 427.6,433.5 427.7,433.4 427.8,429.7 427.9,429.5 428.1,431.0 428.2,430.4 428.3,429.2 428.4,430.9 428.6,429.7 428.7,429.8 428.8,430.6 428.9,430.6 429.0,431.2 429.2,429.6 429.3,429.0 429.4,430.9 429.5,431.0 429.7,430.3 429.8,430.6 429.9,431.1 430.0,427.2 430.2,426.0 430.3,428.3 430.4,425.0 430.5,424.5 430.6,424.7 430.8,424.7 430.9,423.9 431.0,423.5 431.1,422.9 431.3,424.3 431.4,423.7 431.5,428.2 431.7,426.6 431.8,425.8 431.9,426.3 432.0,427.8 432.2,426.5 432.3,433.5 432.4,436.6 432.5,437.5 432.7,436.3 432.8,432.3 432.9,434.5 433.0,434.8 433.2,433.0 433.3,436.8 433.4,438.9 433.5,437.2 433.6,438.2 433.8,436.1 433.9,432.0 434.0,429.2 434.1,429.7 434.3,426.6 434.4,425.0 434.5,429.1 434.6,429.5 434.8,428.1 434.9,428.4 435.0,429.4 435.2,429.6 435.3,425.3 435.4,425.1 435.6,427.3 435.7,424.5 435.8,427.2 435.9,426.4 436.1,424.1 436.2,426.1 436.3,425.2 436.4,426.3 436.6,426.2 436.7,429.0 436.8,431.8 437.0,434.6 437.1,436.6 437.2,436.7 437.3,435.9 437.4,435.8 437.6,437.4 437.7,439.1 437.8,437.3 437.9,436.3 438.1,435.8 438.2,436.4 438.3,435.6 438.4,438.1 438.5,442.3 438.7,441.5 438.8,446.8 438.9,450.7 439.1,453.2 439.2,450.2 439.3,450.0 439.4,452.3 439.6,452.8 439.7,453.7 439.8,454.1 439.9,450.8 440.1,447.6 440.2,445.1 440.3,442.7 440.5,441.2 440.6,440.9 440.7,440.4 440.8,441.5 440.9,443.0 441.1,444.6 441.2,449.0 441.3,449.6 441.4,451.3 441.6,450.7 441.7,452.6 441.8,454.5 441.9,454.2 442.0,454.4 442.2,455.4 442.3,457.6 442.4,456.3 442.5,453.4 442.7,455.1 442.8,456.0 442.9,453.0 443.1,449.5 443.2,452.4 443.3,451.5 443.5,450.5 443.6,447.4 443.7,450.0 443.8,452.2 444.0,451.4 444.1,454.9 444.2,456.5 444.4,455.5 444.5,458.5 444.6,459.1 444.7,461.6 444.9,461.4 445.0,461.5 445.1,460.7 445.2,462.2 445.4,460.2 445.5,454.7 445.6,454.2 445.7,455.2 445.9,455.9 446.0,457.9 446.1,455.3 446.2,458.2 446.3,461.1 446.5,458.2 446.6,456.2 446.7,454.7 446.8,454.2 447.0,454.2 447.1,448.8 447.2,449.6 447.3,448.7 447.4,448.8 447.6,447.8 447.7,448.4 447.8,448.7 447.9,449.4 448.1,452.8 448.2,455.4 448.3,455.4 448.4,453.1 448.5,453.0 448.7,455.2 448.8,455.8 448.9,459.3 449.0,457.8 449.2,456.4 449.3,454.5 449.4,455.4 449.5,454.6 449.7,455.0 449.8,458.8 449.9,458.3 450.0,458.4 450.1,459.2 450.3,457.3 450.4,457.2 450.5,459.7 450.6,460.9 450.8,460.9 450.9,464.9 451.0,465.8 451.1,466.2 451.3,468.0 451.4,467.0 451.5,468.3 451.6,468.0 451.8,467.4 451.9,467.1 452.0,468.1 452.1,469.4 452.2,470.5 452.4,473.8 452.5,477.6 452.6,479.6 452.7,481.7 452.8,481.8 453.0,480.5 453.1,482.4 453.2,483.2 453.3,485.1 453.5,482.9 453.6,480.2 453.7,479.8 453.8,481.1 453.9,478.2 454.1,476.7 454.2,472.6 454.3,469.6 454.4,465.6 454.6,465.4 454.7,465.5 454.8,464.4 454.9,466.3 455.1,468.4 455.2,467.9 455.3,467.1 455.4,466.1 455.5,466.7 455.7,467.0 455.8,466.2 455.9,465.0 456.0,465.4 456.2,463.8 456.3,463.7 456.4,462.9 456.5,464.8 456.7,466.3 456.8,462.8 456.9,461.7 457.0,462.3 457.2,460.7 457.3,461.5 457.4,461.4 457.5,461.8 457.7,461.0 457.8,460.8 457.9,460.4 458.0,461.7 458.2,463.2 458.3,459.5 458.4,460.4 458.5,461.6 458.7,462.4 458.8,461.9 458.9,460.9 459.0,463.0 459.1,462.7 459.3,466.3 459.4,467.1 459.5,467.7 459.6,467.8 459.8,468.1 459.9,471.4 460.0,474.3 460.1,474.5 460.2,475.0 460.4,473.2 460.5,474.4 460.6,475.1 460.7,475.0 460.9,471.0 461.0,472.7 461.1,473.1 461.2,473.4 461.3,474.0 461.5,473.3 461.6,473.2 461.7,474.3 461.8,472.9 462.0,473.1 462.1,472.8 462.2,473.5 462.3,473.7 462.5,473.1 462.6,472.7 462.7,473.0 462.8,472.9 463.0,474.6 463.1,472.3 463.2,473.9 463.3,474.9 463.5,476.5 463.6,479.6 463.7,480.0 463.8,479.0 464.0,479.8 464.1,478.9 464.2,479.2 464.3,480.0 464.4,480.3 464.6,479.0 464.7,478.3 464.8,478.6 464.9,478.3 465.0,479.5 465.2,478.3 465.3,477.0 465.4,476.5 465.5,477.0 465.7,476.5 465.8,477.2 465.9,480.0 466.0,479.2 466.1,480.0 466.3,477.6 466.4,477.0 466.5,476.3 466.6,476.5 466.8,476.4 466.9,478.2 467.0,476.5 467.1,476.2 467.3,480.0 467.4,482.8 467.5,485.3 467.6,486.0 467.8,490.0 467.9,492.9 468.0,495.7 468.1,499.4 468.3,503.2 468.4,502.7 468.5,506.0 468.6,507.6 468.8,505.1 468.9,502.4 469.0,502.4 469.1,501.0 469.3,499.2 469.4,497.4 469.5,496.1 469.6,494.7 469.7,492.7 469.9,491.8 470.0,492.4 470.1,494.0 470.2,491.9 470.4,494.4 470.5,494.0 470.6,494.2 470.7,492.7 470.9,491.2 471.0,492.9 471.1,492.0 471.2,491.3 471.4,492.5 471.5,494.7 471.6,491.8 471.7,491.6 471.8,491.9 472.0,487.9 472.1,488.1 472.2,487.6 472.3,486.3 472.5,484.4 472.6,485.1 472.7,483.8 472.8,485.0 473.0,489.5 473.1,491.9 473.2,491.7 473.3,490.4 473.4,492.2 473.6,489.1 473.7,489.0 473.8,483.3 473.9,484.1 474.1,485.8 474.2,484.2 474.3,483.0 474.4,483.3 474.6,483.9 474.7,483.3 474.8,483.3 474.9,484.8 475.0,484.9 475.2,484.8 475.3,484.1 475.4,483.5 475.5,483.6 475.7,485.7 475.8,485.6 475.9,485.3 476.0,484.0 476.2,485.1 476.3,484.6 476.4,483.3 476.5,485.9 476.6,484.2 476.8,481.5 476.9,482.5 477.0,481.7 477.1,484.1 477.3,483.0 477.4,483.7 477.5,481.3 477.6,482.3 477.7,481.3 477.9,481.5 478.0,483.3 478.1,481.9 478.2,481.7 478.4,480.8 478.5,480.5 478.6,482.9 478.7,481.8 478.8,482.0 479.0,480.8 479.1,483.0 479.2,482.9 479.3,484.4 479.5,485.5 479.6,484.7 479.7,486.0 479.8,487.7 480.0,486.0 480.1,487.3 480.2,493.4 480.3,493.0 480.4,494.3 480.6,492.2 480.7,493.1 480.8,492.3 480.9,493.7 481.1,493.8 481.2,495.1 481.3,494.3 481.4,492.2 481.6,491.8 481.7,489.8 481.8,490.0 481.9,489.4 482.1,488.3 482.2,489.0 482.3,486.4 482.4,487.6 482.6,483.8 482.7,486.0 482.8,485.9 482.9,485.0 483.1,483.3 483.2,483.8 483.3,483.0 483.4,482.3 483.6,483.6 483.7,482.4 483.8,481.5 483.9,483.1 484.1,482.6 484.2,482.6 484.3,482.4 484.4,483.4 484.6,483.6 484.7,483.8 484.8,483.3 484.9,483.0 485.0,483.7 485.2,483.3 485.3,483.6 485.4,483.5 485.5,481.8 485.7,484.2 485.8,483.5 485.9,482.5 486.0,482.2 486.1,482.3 486.3,481.1 486.4,483.9 486.5,483.8 486.6,485.9 486.8,487.5 486.9,487.7 487.0,488.6 487.1,487.4 487.3,487.2 487.4,485.8 487.5,487.1 487.6,486.8 487.7,488.3 487.9,487.0 488.0,485.3 488.1,487.7 488.2,487.1 488.4,487.8 488.5,487.4 488.6,486.9 488.7,485.4 488.9,486.7 489.0,484.2 489.1,484.8 489.2,488.1 489.4,487.8 489.5,487.8 489.6,485.0 489.7,484.9 489.9,487.5 490.0,488.2 490.1,486.6 490.2,485.9 490.4,484.8 490.5,485.8 490.6,488.7 490.7,489.6 490.8,489.1 491.0,489.2 491.1,490.8 491.2,488.2 491.3,490.7 491.5,492.8 491.6,490.1 491.7,493.6 491.8,492.3 491.9,493.3 492.1,493.9 492.2,495.2 492.3,493.8 492.4,492.7 492.6,493.2 492.7,493.0 492.8,492.9 492.9,492.8 493.0,493.2 493.2,492.6 493.3,493.7 493.4,494.3 493.5,493.4 493.7,497.0 493.8,495.6 493.9,497.4 494.0,496.9 494.2,498.2 494.3,499.7 494.4,502.5 494.5,502.0 494.7,506.8 494.8,508.2 494.9,507.7 495.0,506.5 495.2,510.6 495.3,513.8 495.4,514.5 495.5,516.3 495.7,519.0 495.8,518.0 495.9,517.5 496.0,518.3 496.2,517.9 496.3,515.8 496.4,516.4 496.6,513.6 496.7,512.1 496.8,513.4 496.9,513.4 497.1,513.3 497.2,513.0 497.3,514.1 497.4,513.6 497.6,510.4 497.7,510.4 497.8,505.6 498.0,508.5 498.1,510.7 498.2,510.6 498.3,511.2 498.5,511.9 498.6,514.0 498.7,513.5 498.8,512.9 499.0,512.6 499.1,513.5 499.2,514.5 499.3,515.8 499.5,514.9 499.6,515.2 499.7,514.6 499.8,513.7 500.0,515.7 500.1,515.6 500.2,514.7 500.3,515.1 500.5,514.2 500.6,515.3 500.7,516.8 500.8,518.5 501.0,517.5 501.1,517.7 501.2,520.5 501.3,520.6 501.5,522.7 501.6,525.0 501.7,523.6 501.8,525.6 502.0,526.9 502.1,528.5 502.2,527.6 502.4,526.3 502.5,525.6 502.6,523.7 502.7,522.9 502.9,518.8 503.0,519.6 503.1,517.4 503.3,516.6 503.4,516.5 503.5,516.3 503.6,516.1 503.8,513.5 503.9,512.5 504.0,513.8 504.1,512.1 504.3,510.3 504.4,513.0 504.5,514.4 504.6,516.3 504.8,516.0 504.9,516.0 505.0,516.8 505.1,517.3 505.3,516.8 505.4,514.5 505.5,513.2 505.6,510.7 505.8,510.5 505.9,510.7 506.0,511.4 506.1,511.8 506.3,512.9 506.4,512.4 506.5,510.6 506.6,513.3 506.8,512.8 506.9,512.5 507.0,511.7 507.1,511.3 507.2,511.7 507.4,513.1 507.5,511.9 507.6,512.7 507.7,512.8 507.9,512.1 508.0,511.9 508.1,512.6 508.2,510.4 508.4,510.2 508.5,510.1 508.6,510.5 508.7,511.1 508.8,510.0 509.0,509.9 509.1,510.8 509.2,511.4 509.3,511.1 509.5,509.6 509.6,510.3 509.7,513.5 509.8,512.3 510.0,511.2 510.1,509.2 510.2,511.1 510.3,509.3 510.4,509.8 510.6,511.8 510.7,510.8 510.8,510.8 510.9,511.4 511.1,513.4 511.2,512.2 511.3,513.6 511.4,515.5 511.6,516.6 511.7,518.0 511.8,518.0 511.9,517.6 512.1,516.9 512.2,517.4 512.3,516.7 512.4,517.2 512.6,517.1 512.7,518.2 512.8,516.9 512.9,516.6 513.1,516.8 513.2,517.0 513.3,518.2 513.4,518.4 513.6,519.2 513.7,521.5 513.8,520.7 513.9,520.6 514.0,521.8 514.2,521.8 514.3,522.5 514.4,522.7 514.5,524.7 514.7,526.6 514.8,525.6 514.9,526.4 515.0,526.4 515.1,525.1 515.3,526.3 515.4,526.5 515.5,527.5 515.6,528.1 515.7,528.4 515.9,526.8 516.0,524.1 516.1,524.6 516.2,523.1 516.4,522.1 516.5,520.5 516.6,519.5 516.7,521.5 516.8,520.0 517.0,518.5 517.1,517.6 517.2,516.5 517.3,514.5 517.5,514.2 517.6,514.4 517.7,513.8 517.8,513.0 518.0,512.1 518.1,512.1 518.2,512.4 518.3,510.6 518.5,510.7 518.6,511.3 518.7,511.6 518.8,510.9 518.9,510.9 519.1,510.6 519.2,512.1 519.3,510.8 519.4,511.7 519.6,511.9 519.7,512.8 519.8,511.5 519.9,510.2 520.1,510.0 520.2,510.9 520.3,510.0 520.4,507.9 520.6,506.8 520.7,507.3 520.8,508.8 520.9,508.0 521.1,507.4 521.2,507.1 521.3,506.8 521.4,505.3 521.6,504.6 521.7,504.8 521.8,504.8 521.9,503.0 522.1,501.9 522.2,500.5 522.3,501.7 522.4,503.6 522.5,503.8 522.7,505.9 522.8,505.2 522.9,504.4 523.0,502.2 523.2,502.2 523.3,501.2 523.4,501.1 523.5,501.5 523.6,500.8 523.8,498.8 523.9,498.5 524.0,498.1 524.1,497.8 524.3,498.5 524.4,497.9 524.5,500.2 524.6,499.6 524.7,500.0 524.9,499.4 525.0,498.5 525.1,498.7 525.2,499.7 525.4,498.1 525.5,498.7 525.6,498.8 525.7,499.6 525.9,499.8 526.0,500.6 526.1,498.7 526.2,500.0 526.4,499.9 526.5,499.4 526.6,500.1 526.7,499.5 526.8,498.9 527.0,499.4 527.1,498.7 527.2,499.1 527.3,499.9 527.5,500.2 527.6,499.0 527.7,498.6 527.8,499.7 528.0,500.3 528.1,499.7 528.2,499.7 528.3,498.9 528.4,499.2 528.6,500.2 528.7,498.4 528.8,497.9 528.9,497.1 529.1,499.5 529.2,497.0 529.3,496.6 529.4,495.8 529.5,495.7 529.7,493.9 529.8,494.5 529.9,496.5 530.0,496.2 530.2,496.4 530.3,496.1 530.4,496.4 530.5,495.6 530.6,493.7 530.8,492.9 530.9,492.0 531.0,492.3 531.1,492.4 531.3,492.7 531.4,491.8 531.5,492.5 531.6,493.5 531.8,492.4 531.9,492.8 532.0,493.1 532.1,491.9 532.2,493.4 532.4,492.1 532.5,492.1 532.6,492.4 532.7,492.8 532.9,493.0 533.0,493.7 533.1,493.8 533.2,491.3 533.4,491.7 533.5,490.7 533.6,490.5 533.7,488.4 533.9,487.6 534.0,487.9 534.1,488.3 534.2,487.1 534.4,486.2 534.5,487.0 534.6,487.3 534.7,485.8 534.9,487.5 535.0,486.9 535.1,487.3 535.2,487.1 535.3,487.2 535.5,486.9 535.6,486.3 535.7,486.0 535.8,487.3 536.0,487.2 536.1,486.4 536.2,487.3 536.3,487.6 536.4,486.3 536.6,485.9 536.7,485.9 536.8,486.1 536.9,486.7 537.1,486.1 537.2,486.9 537.3,486.9 537.4,485.5 537.6,485.2 537.7,485.1 537.8,485.4 537.9,486.6 538.1,484.6 538.2,481.7 538.3,481.8 538.4,481.4 538.5,483.1 538.7,483.0 538.8,484.4 538.9,483.2 539.0,481.9 539.2,482.1 539.3,479.2 539.4,482.4 539.5,482.9 539.7,480.6 539.8,482.2 539.9,479.0 540.0,477.9 540.2,477.2 540.3,476.3 540.4,474.0 540.5,477.9 540.7,476.9 540.8,477.3 540.9,477.1 541.0,474.0 541.2,472.7 541.3,472.8 541.4,474.1 541.5,473.3 541.7,472.9 541.8,474.3 541.9,470.0 542.0,471.4 542.2,470.5 542.3,469.7 542.4,469.6 542.5,471.3 542.6,469.9 542.8,469.1 542.9,468.1 543.0,467.3 543.1,468.3 543.3,469.1 543.4,468.3 543.5,468.3 543.6,468.4 543.8,468.9 543.9,466.9 544.0,466.3 544.1,466.5 544.2,466.8 544.4,466.5 544.5,468.9 544.6,466.6 544.7,466.5 544.9,467.7 545.0,467.4 545.1,466.5 545.2,466.8 545.3,468.2 545.5,467.5 545.6,467.7 545.7,467.2 545.8,468.4 546.0,467.6 546.1,466.9 546.2,466.6 546.3,468.6 546.4,468.5 546.6,467.5 546.7,468.4 546.8,465.7 546.9,467.8 547.1,469.4 547.2,467.4 547.3,468.2 547.4,469.4 547.6,468.3 547.7,465.8 547.8,470.3 547.9,472.7 548.0,473.3 548.2,474.5 548.3,474.5 548.4,474.2 548.5,474.2 548.7,472.3 548.8,473.0 548.9,474.2 549.1,473.9 549.2,469.1 549.3,468.5 549.4,466.9 549.6,467.0 549.7,468.1 549.8,468.7 549.9,469.2 550.0,469.4 550.2,470.7 550.3,470.2 550.4,472.2 550.5,469.7 550.7,470.5 550.8,471.8 550.9,469.8 551.0,469.4 551.2,472.3 551.3,472.1 551.4,471.3 551.5,472.2 551.6,472.7 551.8,474.2 551.9,478.2 552.0,478.5 552.1,479.1 552.3,478.2 552.4,478.4 552.5,478.7 552.6,480.4 552.7,481.7 552.9,480.7 553.0,480.2 553.1,477.2 553.2,477.2 553.3,478.9 553.5,478.8 553.6,477.9 553.7,479.1 553.8,478.5 554.0,477.2 554.1,475.6 554.2,476.3 554.3,476.3 554.5,477.8 554.6,475.9 554.7,474.1 554.8,472.1 555.0,471.3 555.1,470.0 555.2,470.7 555.3,469.7 555.4,469.9 555.6,471.3 555.7,470.3 555.8,471.0 555.9,471.8 556.1,471.8 556.2,470.2 556.3,470.8 556.4,471.5 556.6,470.1 556.7,471.0 556.8,470.7 556.9,470.3 557.0,469.7 557.2,470.9 557.3,471.1 557.4,471.8 557.5,472.4 557.7,472.3 557.8,471.7 557.9,471.3 558.0,469.7 558.2,470.9 558.3,471.3 558.4,473.9 558.5,471.3 558.6,474.2 558.8,474.8 558.9,475.2 559.0,474.7 559.1,477.3 559.3,475.7 559.4,476.0 559.5,474.7 559.6,475.3 559.8,474.4 559.9,474.5 560.0,475.1 560.1,475.3 560.3,475.6 560.4,475.9 560.5,477.2 560.6,477.1 560.7,479.5 560.9,479.2 561.0,479.1 561.1,479.6 561.2,479.6 561.4,479.1 561.5,477.6 561.6,479.8 561.7,479.3 561.9,479.6 562.0,479.0 562.1,479.2 562.2,479.5 562.3,477.3 562.5,474.8 562.6,472.7 562.7,474.5 562.8,473.3 563.0,472.8 563.1,472.5 563.2,471.9 563.3,473.4 563.5,470.9 563.6,471.2 563.7,473.2 563.8,471.1 563.9,470.7 564.1,471.1 564.2,470.4 564.3,471.2 564.4,472.3 564.6,471.8 564.7,471.9 564.8,470.9 564.9,469.1 565.1,470.7 565.2,470.2 565.3,470.7 565.4,469.0 565.6,469.0 565.7,470.1 565.8,469.2 565.9,468.9 566.0,471.2 566.2,470.2 566.3,470.2 566.4,470.1 566.5,471.5 566.7,469.9 566.8,469.3 566.9,468.6 567.0,466.1 567.1,465.4 567.3,467.5 567.4,466.4 567.5,469.0 567.6,468.6 567.8,469.9 567.9,467.6 568.0,468.6 568.1,465.1 568.2,464.3 568.4,462.4 568.5,459.9 568.6,462.2 568.7,463.3 568.9,461.1 569.0,460.5 569.1,460.9 569.2,461.5 569.3,460.5 569.5,459.7 569.6,458.9 569.7,457.5 569.8,457.0 570.0,458.3 570.1,459.3 570.2,458.2 570.3,457.5 570.5,458.1 570.6,458.4 570.7,455.8 570.8,454.8 571.0,452.4 571.1,453.2 571.2,451.5 571.3,452.3 571.5,453.2 571.6,455.3 571.7,453.9 571.8,451.8 572.0,452.8 572.1,454.6 572.2,451.9 572.3,452.2 572.5,452.5 572.6,455.4 572.7,455.3 572.8,453.2 573.0,453.0 573.1,452.0 573.2,453.4 573.3,454.1 573.5,454.6 573.6,456.4 573.7,455.4 573.8,453.6 573.9,451.9 574.1,452.4 574.2,453.5 574.3,454.8 574.4,455.0 574.6,456.7 574.7,456.5 574.8,454.7 574.9,453.7 575.0,451.2 575.2,451.3 575.3,450.7 575.4,451.5 575.5,450.7 575.7,453.6 575.8,452.5 575.9,450.9 576.0,452.3 576.2,452.1 576.3,452.9 576.4,451.5 576.5,452.3 576.7,450.9 576.8,451.7 576.9,451.0 577.0,451.6 577.2,452.1 577.3,449.9 577.4,448.7 577.5,449.3 577.7,449.8 577.8,450.9 577.9,450.8 578.0,450.2 578.2,451.1 578.3,452.3 578.4,449.6 578.5,448.8 578.6,448.3 578.8,448.5 578.9,450.5 579.0,447.6 579.1,447.7 579.3,448.3 579.4,448.3 579.5,447.9 579.6,448.1 579.8,448.2 579.9,447.8 580.0,447.4 580.1,450.2 580.2,452.1 580.4,451.9 580.5,449.8 580.6,446.8 580.7,452.9 580.9,454.1 581.0,453.5 581.1,455.5 581.2,456.4 581.4,454.9 581.5,455.4 581.6,455.9 581.7,453.7 581.8,452.7 582.0,455.0 582.1,453.5 582.2,452.6 582.3,452.5 582.5,455.6 582.6,457.5 582.7,456.4 582.8,459.5 583.0,459.1 583.1,458.6 583.2,459.8 583.3,459.6 583.4,459.4 583.6,456.4 583.7,457.4 583.8,457.1 583.9,457.6 584.1,458.5 584.2,459.6 584.3,458.7 584.4,459.7 584.5,458.8 584.7,458.4 584.8,457.0 584.9,455.9 585.0,458.0 585.2,457.8 585.3,459.4 585.4,457.7 585.5,456.5 585.6,456.0 585.8,455.7 585.9,455.8 586.0,455.2 586.1,455.8 586.3,454.2 586.4,455.4 586.5,456.2 586.6,454.4 586.8,453.0 586.9,453.9 587.0,451.7 587.1,454.3 587.2,454.9 587.4,451.9 587.5,456.1 587.6,456.2 587.7,453.9 587.9,453.9 588.0,455.2 588.1,456.6 588.2,454.5 588.4,452.1 588.5,452.5 588.6,452.2 588.7,451.6 588.9,451.9 589.0,449.2 589.1,450.1 589.2,451.1 589.3,452.0 589.5,452.7 589.6,449.4 589.7,449.0 589.8,450.3 590.0,452.0 590.1,450.8 590.2,449.7 590.3,450.7 590.5,449.6 590.6,446.7 590.7,446.7 590.8,446.0 590.9,443.4 591.1,445.4 591.2,447.3 591.3,447.8 591.4,449.1 591.6,449.7 591.7,450.4 591.8,448.0 591.9,445.6 592.1,446.6 592.2,446.6 592.3,443.0 592.4,445.3 592.5,445.3 592.7,448.2 592.8,450.2 592.9,448.8 593.0,448.5 593.2,446.6 593.3,444.3 593.4,443.3 593.5,445.9 593.7,443.7 593.8,444.8 593.9,444.6 594.0,443.9 594.2,446.0 594.3,444.9 594.4,445.4 594.5,446.4 594.7,444.3 594.8,445.6 594.9,443.0 595.0,442.5 595.2,442.4 595.3,441.7 595.4,441.8 595.5,444.7 595.7,443.8 595.8,442.7 595.9,445.0 596.0,444.5 596.1,444.1 596.3,442.1 596.4,443.7 596.5,440.7 596.6,441.5 596.8,440.7 596.9,439.5 597.0,439.8 597.1,441.4 597.3,444.5 597.4,442.5 597.5,442.4 597.7,444.7 597.8,446.7 597.9,445.4 598.0,444.5 598.2,446.3 598.3,445.1 598.4,446.6 598.6,449.5 598.7,450.5 598.8,445.7 598.9,449.2 599.1,450.3 599.2,449.6 599.3,447.3 599.4,449.3 599.6,448.9 599.7,449.9 599.8,448.5 599.9,446.9 600.1,445.4 600.2,447.7 600.3,447.2 600.4,445.8 600.6,442.0 600.7,442.0 600.8,440.9 600.9,440.2 601.1,441.3 601.2,441.7 601.3,440.7 601.4,440.8 601.5,442.1 601.7,440.7 601.8,440.6 601.9,441.8 602.0,440.8 602.2,439.0 602.3,441.5 602.4,440.7 602.5,441.7 602.7,437.7 602.8,437.5 602.9,439.4 603.0,437.7 603.2,436.0 603.3,438.1 603.4,435.5 603.5,433.3 603.6,432.5 603.8,433.7 603.9,434.9 604.0,433.6 604.1,432.8 604.3,432.8 604.4,429.7 604.5,426.0 604.6,426.4 604.8,424.8 604.9,430.2 605.0,430.4 605.1,427.5 605.3,426.3 605.4,425.9 605.5,425.7 605.6,425.5 605.8,425.4 605.9,425.2 606.0,424.9 606.1,428.0 606.3,425.8 606.4,425.3 606.5,424.9 606.6,425.9 606.8,427.5 606.9,427.4 607.0,427.7 607.1,426.0 607.2,426.1 607.4,426.2 607.5,428.0 607.6,426.4 607.7,426.0 607.9,425.8 608.0,426.0 608.1,427.1 608.2,426.9 608.4,426.3 608.5,426.8 608.6,427.5 608.7,424.8 608.8,425.3 609.0,426.3 609.1,426.7 609.2,428.2 609.3,428.2 609.5,426.8 609.6,425.2 609.7,426.2 609.8,427.7 609.9,426.6 610.1,427.0 610.2,425.9 610.3,427.6 610.4,426.0 610.6,425.9 610.7,426.5 610.8,426.5 610.9,426.6 611.0,424.5 611.2,423.9 611.3,419.0 611.4,422.5 611.5,423.9 611.7,421.0 611.8,420.1 611.9,421.0 612.0,423.5 612.1,421.8 612.3,421.1 612.4,420.3 612.5,419.8 612.6,420.9 612.8,421.7 612.9,422.6 613.0,423.1 613.1,423.0 613.3,423.0 613.4,424.7 613.5,422.8 613.6,419.6 613.8,419.0 613.9,421.2 614.0,421.1 614.1,420.0 614.2,416.9 614.3,418.0 614.4,414.1 614.6,412.4 614.7,408.1 614.8,408.3 614.9,408.0 615.1,409.9 615.2,416.0 615.3,415.3 615.5,416.1 615.6,416.0 615.7,409.9 615.8,408.8 616.0,407.8 616.1,409.3 616.2,408.0 616.4,410.1 616.5,410.5 616.6,408.9 616.7,407.6 616.9,407.4 617.0,410.0 617.1,414.0 617.2,411.4 617.4,414.8 617.5,415.6 617.6,417.0 617.8,420.0 617.9,418.2 618.0,420.9 618.1,419.8 618.3,419.2 618.4,421.8 618.5,425.6 618.6,427.4 618.7,428.6 618.9,427.4 619.0,431.4 619.1,434.7 619.2,436.8 619.3,436.6 619.5,435.8 619.6,435.7 619.7,431.3 619.8,429.4 620.0,431.0 620.1,430.8 620.2,432.6 620.3,431.4 620.5,430.2 620.6,431.2 620.7,430.5 620.8,429.1 621.0,425.8 621.1,430.1 621.2,430.1 621.4,429.2 621.5,431.6 621.6,431.0 621.8,428.8 621.9,428.4 622.0,429.2 622.1,430.7 622.3,431.5 622.4,429.8 622.5,429.1 622.7,427.4 622.8,424.5 622.9,423.9 623.0,423.3 623.2,426.1 623.3,426.0 623.4,422.9 623.5,422.8 623.7,421.0 623.8,422.9 623.9,421.5 624.0,420.1 624.1,420.5 624.3,420.4 624.4,418.9 624.5,423.2 624.6,422.6 624.8,418.9 624.9,420.4 625.0,419.7 625.1,420.9 625.3,419.1 625.4,419.9 625.5,418.9 625.6,417.8 625.7,416.6 625.9,418.5 626.0,418.9 626.1,417.8 626.2,418.2 626.4,417.9 626.5,416.6 626.6,415.5 626.7,416.5 626.8,415.0 627.0,418.2 627.1,415.9 627.2,416.5 627.3,416.3 627.5,415.4 627.6,415.7 627.7,416.0 627.8,417.0 628.0,417.0 628.1,415.7 628.2,417.1 628.3,416.3 628.5,414.5 628.6,414.8 628.7,413.7 628.8,410.9 628.9,410.3 629.1,410.7 629.2,410.0 629.3,412.3 629.4,411.0 629.6,412.1 629.7,411.6 629.8,409.7 629.9,412.1 630.1,411.5 630.2,411.2 630.3,409.1 630.4,412.1 630.6,409.2 630.7,407.3 630.8,407.5 630.9,407.8 631.1,407.9 631.2,407.4 631.3,405.7 631.4,402.4 631.5,401.8 631.7,402.8 631.8,405.4 631.9,404.3 632.0,407.0 632.2,403.7 632.3,405.7 632.4,403.1 632.5,400.4 632.7,397.7 632.8,396.0 632.9,399.4 633.0,397.4 633.1,398.8 633.3,398.9 633.4,399.5 633.5,400.0 633.6,401.4 633.8,398.1 633.9,397.9 634.0,398.6 634.1,396.8 634.3,397.5 634.4,395.0 634.5,396.2 634.6,395.5 634.7,396.4 634.9,395.0 635.0,397.5 635.1,395.8 635.2,395.7 635.4,396.2 635.5,395.7 635.6,395.9 635.7,397.9 635.9,397.0 636.0,397.0 636.1,396.0 636.2,395.6 636.4,396.1 636.5,395.8 636.6,396.1 636.7,396.4 636.8,396.4 637.0,397.5 637.1,397.7 637.2,396.7 637.3,397.2 637.5,396.8 637.6,397.2 637.7,395.2 637.8,397.7 638.0,393.7 638.1,394.7 638.2,397.4 638.3,395.2 638.4,397.1 638.6,392.7 638.7,394.8 638.8,395.3 638.9,393.4 639.1,391.3 639.2,392.2 639.3,392.3 639.4,392.8 639.6,392.0 639.7,393.1 639.8,391.3 639.9,392.9 640.1,392.2 640.2,392.4 640.3,390.3 640.4,389.9 640.6,385.6 640.7,389.9 640.8,393.0 640.9,390.7 641.1,390.9 641.2,391.1 641.3,389.5 641.4,391.6 641.6,390.2 641.7,386.4 641.8,389.2 641.9,387.7 642.1,391.6 642.2,392.6 642.3,392.9 642.5,393.5 642.6,394.2 642.7,400.7 642.9,400.2 643.0,401.8 643.1,399.1 643.2,400.9 643.4,399.0 643.5,397.5 643.6,401.3 643.7,399.4 643.9,399.4 644.0,399.8 644.1,395.4 644.2,389.3 644.4,390.4 644.5,390.0 644.6,390.4 644.7,390.0 644.9,389.2 645.0,386.1 645.1,387.6 645.2,387.6 645.3,386.8 645.5,385.1 645.6,384.2 645.7,379.9 645.8,378.9 646.0,377.1 646.1,379.5 646.2,376.7 646.3,377.8 646.4,377.9 646.6,377.4 646.7,378.5 646.8,378.5 646.9,378.1 647.1,378.7 647.2,374.0 647.3,375.8 647.4,373.6 647.5,374.5 647.7,376.5 647.8,378.6 647.9,376.6 648.0,378.0 648.2,377.1 648.3,379.5 648.4,378.5 648.5,378.9 648.7,376.6 648.8,374.5 648.9,372.2 649.0,372.7 649.2,371.7 649.3,375.1 649.4,374.8 649.5,375.3 649.7,370.0 649.8,371.6 649.9,375.3 650.0,375.0 650.2,370.6 650.3,374.0 650.4,375.4 650.5,373.7 650.7,372.8 650.8,373.7 650.9,376.6 651.0,374.9 651.2,373.2 651.3,375.9 651.4,376.0 651.5,376.5 651.7,372.7 651.8,370.7 651.9,372.3 652.0,370.3 652.1,368.2 652.3,367.5 652.4,367.1 652.5,373.0 652.6,369.1 652.8,368.0 652.9,372.3 653.0,370.9 653.1,370.5 653.2,364.7 653.4,366.0 653.5,367.0 653.6,367.9 653.7,365.9 653.9,365.4 654.0,363.7 654.1,364.7 654.2,368.9 654.4,366.9 654.5,367.9 654.6,363.8 654.7,363.0 654.9,367.2 655.0,368.4 655.1,377.3 655.2,376.3 655.4,377.3 655.5,376.5 655.6,377.0 655.7,374.8 655.8,374.0 656.0,381.4 656.1,382.6 656.2,386.9 656.3,385.3 656.5,386.8 656.6,390.2 656.7,391.5 656.8,392.0 656.9,393.3 657.1,395.2 657.2,397.3 657.3,392.7 657.4,386.0 657.5,384.4 657.7,383.3 657.8,384.1 657.9,386.0 658.0,383.0 658.2,387.6 658.3,387.2 658.4,381.2 658.5,382.8 658.6,382.4 658.8,375.7 658.9,372.6 659.0,370.8 659.1,371.1 659.3,371.4 659.4,370.0 659.5,371.5 659.6,372.9 659.8,370.3 659.9,373.0 660.0,371.6 660.1,371.5 660.3,368.1 660.4,362.0 660.5,363.2 660.6,361.9 660.8,362.6 660.9,365.9 661.0,362.0 661.1,360.1 661.3,358.9 661.4,360.7 661.5,360.4 661.7,361.7 661.8,360.6 661.9,361.6 662.1,359.5 662.2,363.7 662.3,363.3 662.5,365.8 662.6,367.6 662.7,369.2 662.8,368.1 663.0,367.2 663.1,366.6 663.2,362.3 663.4,359.2 663.5,357.2 663.6,357.9 663.8,358.7 663.9,358.3 664.0,361.0 664.2,358.6 664.3,359.9 664.4,357.8 664.6,364.1 664.7,369.1 664.8,368.7 665.0,372.5 665.1,378.0 665.2,380.8 665.3,381.6 665.4,381.8 665.6,382.1 665.7,380.8 665.8,381.7 665.9,381.4 666.1,377.9 666.2,375.7 666.3,376.6 666.4,375.0 666.6,376.8 666.7,372.1 666.8,372.9 666.9,367.6 667.0,367.0 667.2,369.8 667.3,370.2 667.4,368.7 667.5,374.6 667.7,374.2 667.8,376.3 667.9,379.4 668.0,380.2 668.2,379.4 668.3,380.0 668.4,377.4 668.5,379.4 668.6,378.3 668.8,378.6 668.9,375.5 669.0,377.1 669.1,377.6 669.3,381.1 669.4,384.5 669.5,377.9 669.6,378.9 669.8,381.1 669.9,384.4 670.0,385.4 670.1,389.7 670.3,395.6 670.4,394.1 670.5,394.2 670.6,396.6 670.8,393.8 670.9,396.2 671.0,402.5 671.1,403.7 671.3,408.0 671.4,406.4 671.5,405.3 671.7,405.9 671.8,403.3 671.9,403.3 672.1,401.5 672.2,397.5 672.3,398.6 672.4,394.2 672.6,401.3 672.7,400.8 672.8,402.4 672.9,401.0 673.1,401.8 673.2,401.5 673.3,400.2 673.4,401.4 673.6,397.9 673.7,399.5 673.8,401.1 673.9,400.4 674.1,400.3 674.2,395.9 674.3,392.0 674.4,389.3 674.5,392.4 674.7,394.8 674.8,395.8 674.9,398.2 675.0,401.0 675.2,404.7 675.3,404.9 675.4,408.6 675.5,408.6 675.7,404.4 675.8,405.7 675.9,406.8 676.0,406.7 676.2,402.5 676.3,397.8 676.4,396.9 676.5,393.3 676.7,388.9 676.8,390.3 676.9,391.2 677.0,393.8 677.1,395.4 677.3,391.4 677.4,393.7 677.5,393.1 677.6,393.5 677.8,395.9 677.9,395.6 678.0,392.2 678.1,392.9 678.2,394.8 678.4,395.2 678.5,391.1 678.6,391.5 678.7,391.7 678.9,390.7 679.0,385.1 679.1,385.3 679.2,382.8 679.4,384.9 679.5,384.3 679.6,382.9 679.7,384.4 679.9,381.5 680.0,379.9 680.1,380.5 680.2,384.2 680.4,385.2 680.5,380.8 680.6,379.7 680.7,378.3 680.9,381.1 681.0,380.5 681.1,379.4 681.2,381.4 681.4,384.2 681.5,380.0 681.6,383.8 681.7,387.4 681.9,387.1 682.0,387.0 682.1,387.5 682.2,385.4 682.3,384.8 682.5,388.3 682.6,388.8 682.7,387.3 682.8,386.1 682.9,386.0 683.1,385.9 683.2,389.5 683.3,386.2 683.4,388.3 683.6,388.6 683.7,387.1 683.8,391.0 683.9,390.7 684.0,395.9 684.2,397.3 684.3,400.2 684.4,402.5 684.5,405.6 684.7,405.1 684.8,405.7 684.9,410.4 685.0,410.1 685.2,405.9 685.3,406.3 685.4,407.1 685.5,410.6 685.7,409.0 685.8,410.1 685.9,414.4 686.0,416.8 686.2,417.8 686.3,417.8 686.4,418.2 686.5,417.5 686.6,416.9 686.8,417.3 686.9,414.8 687.0,416.3 687.1,416.8 687.3,418.0 687.4,417.5 687.5,414.2 687.6,410.0 687.8,416.7 687.9,415.1 688.0,410.3 688.1,413.0 688.3,414.8 688.4,415.2 688.5,416.3 688.6,416.4 688.8,416.3 688.9,416.9 689.0,415.9 689.1,416.1 689.3,418.0 689.4,418.2 689.5,415.2 689.6,416.2 689.7,416.8 689.9,418.1 690.0,416.1 690.1,418.6 690.2,418.6 690.3,418.7 690.5,415.4 690.6,417.9 690.7,418.2 690.8,417.4 691.0,418.2 691.1,418.8 691.2,422.0 691.3,422.0 691.5,423.2 691.6,426.8 691.7,425.8 691.8,429.5 691.9,432.5 692.1,437.2 692.2,437.5 692.3,438.4 692.4,441.2 692.6,442.6 692.7,446.6 692.8,450.3 693.0,453.3 693.1,456.3 693.2,461.4 693.4,465.0 693.4,449.4 693.5,453.4 693.7,460.5 693.8,467.1 693.9,467.0 694.1,469.2 694.2,473.6 694.3,478.0 694.4,482.0 694.5,486.4 694.7,488.9 694.8,483.8 694.9,480.4 695.0,479.7 695.1,478.4 695.2,475.1 695.4,478.8 695.5,482.7 695.6,487.1 695.8,494.0 695.9,498.0 696.0,503.7 696.2,505.5 696.3,506.4 696.4,508.7 696.5,510.1 696.7,511.5 696.8,512.1 696.9,510.3 697.0,512.6 697.1,509.3 697.3,506.4 697.4,504.3 697.5,500.3 697.6,498.8 697.8,497.3 697.9,496.0 698.0,494.8 698.1,494.5 698.3,492.6 698.4,493.2 698.5,493.7 698.6,493.8 698.7,492.5 698.9,495.8 699.0,494.5 699.1,491.6 699.2,492.0 699.3,491.3 699.5,490.4 699.6,490.9 699.7,492.2 699.8,492.1 699.9,489.8 700.1,488.3 700.2,488.8 700.3,488.1 700.4,488.3 700.6,486.7 700.7,485.0 700.8,485.0 700.9,485.8 701.0,485.4 701.2,483.4 701.3,488.3 701.4,488.1 701.5,488.3 701.7,488.7 701.8,491.8 701.9,492.2 702.0,494.7 702.1,496.8 702.3,497.3 702.4,496.5 702.5,496.9 702.7,496.2 702.8,495.9 702.9,496.7 703.0,496.7 703.2,496.3 703.3,495.1 703.4,497.0 703.5,494.8 703.7,495.6 703.8,496.7 703.9,498.0 704.0,498.7 704.1,499.0 704.3,500.2 704.4,502.2 704.5,503.7 704.6,504.7 704.7,504.1 704.9,505.5 705.0,504.7 705.1,504.7 705.2,506.0 705.4,508.6 705.5,511.0 705.6,512.8 705.7,513.6 705.8,514.7 706.0,515.5 706.1,519.1 706.2,520.8 706.3,521.1 706.4,521.2 706.6,524.0 706.7,524.0 706.8,522.1 706.9,521.3 707.1,518.0 707.2,516.5 707.3,514.6 707.5,513.5 707.6,513.1 707.7,511.1 707.9,508.6 708.0,506.4 708.1,506.4 708.3,504.8 708.4,502.8 708.5,500.3 708.7,498.7 708.8,498.7 708.9,499.8 709.1,499.7 709.2,499.1 709.3,497.5 709.4,495.1 709.5,495.6 709.7,496.1 709.8,497.4 709.9,495.4 710.0,494.2 710.2,491.4 710.3,492.4 710.4,492.8 710.5,492.9 710.7,492.1 710.8,491.2 710.9,489.9 711.0,490.9 711.1,491.8 711.3,491.8 711.4,489.6 711.5,486.6 711.6,484.8 711.8,484.2 711.9,481.5 712.0,482.0 712.1,483.4 712.3,483.8 712.4,480.4 712.5,476.1 712.6,476.9 712.8,478.9 712.9,477.7 713.0,478.0 713.1,475.8 713.2,476.5 713.4,474.4 713.5,474.8 713.6,476.7 713.7,475.4 713.9,477.6 714.0,474.2 714.1,474.7 714.2,473.6 714.4,477.1 714.5,476.0 714.6,473.5 714.7,475.3 714.8,471.5 715.0,471.1 715.1,474.1 715.2,474.5 715.3,476.5 715.5,477.0 715.6,475.6 715.7,472.3 715.8,476.0 716.0,477.0 716.1,475.5 716.2,475.5 716.3,477.7 716.4,475.7 716.6,480.2 716.7,480.3 716.8,480.2 716.9,483.0 717.1,480.3 717.2,481.1 717.3,481.1 717.4,482.2 717.6,479.7 717.7,476.9 717.8,477.1 717.9,475.5 718.1,470.8 718.2,468.9 718.3,469.2 718.4,470.0 718.6,470.0 718.7,469.5 718.8,466.1 719.0,464.2 719.1,463.6 719.2,464.3 719.3,464.3 719.5,466.0 719.6,461.6 719.7,461.3 719.8,459.0 720.0,458.7 720.1,457.0 720.2,457.6 720.3,456.7 720.4,457.5 720.6,455.5 720.7,457.8 720.8,458.3 720.9,461.6 721.1,461.1 721.2,459.9 721.3,460.0 721.4,458.8 721.6,456.5 721.7,456.4 721.8,454.6 721.9,453.4 722.0,451.0 722.2,450.9 722.3,447.7 722.4,450.8 722.5,450.5 722.7,452.0 722.8,449.1 722.9,449.4 723.0,448.8 723.2,450.4 723.3,451.8 723.4,448.0 723.5,450.0 723.6,446.5 723.8,448.0 723.9,447.0 724.0,450.1 724.2,451.8 724.3,451.3 724.4,451.3 724.6,453.4 724.7,452.6 724.8,452.4 725.0,449.4 725.1,448.9 725.2,448.5 725.3,449.2 725.5,449.7 725.6,443.0 725.7,440.7 725.8,441.9 726.0,438.8 726.1,441.4 726.2,440.6 726.3,441.8 726.5,446.0 726.6,444.5 726.7,445.8 726.8,443.9 727.0,442.7 727.1,442.9 727.2,444.0 727.3,444.8 727.5,445.3 727.6,450.4 727.7,446.1 727.8,447.0 728.0,447.1 728.1,443.7 728.2,447.0 728.3,445.2 728.4,441.8 728.6,442.4 728.7,443.4 728.8,448.2 728.9,444.5 729.1,441.5 729.2,440.6 729.3,440.5 729.4,439.1 729.5,440.3 729.7,439.5 729.8,441.1 729.9,439.4 730.0,440.8 730.2,439.5 730.3,439.4 730.4,439.4 730.5,440.1 730.7,439.9 730.8,439.7 730.9,440.2 731.0,439.5 731.2,439.7 731.3,440.8 731.4,439.7 731.5,439.6 731.7,440.7 731.8,440.2 731.9,440.6 732.0,439.4 732.2,439.0 732.3,439.4 732.4,436.4 732.5,433.1 732.6,433.8 732.8,432.4 732.9,433.6 733.0,432.6 733.1,435.4 733.3,434.5 733.4,434.1 733.5,433.3 733.6,436.7 733.8,435.6 733.9,434.3 734.0,436.0 734.2,432.9 734.3,434.8 734.4,437.1 734.6,439.8 734.7,442.5 734.8,442.3 734.9,445.7 735.1,447.3 735.2,449.0 735.3,449.1 735.4,451.7 735.5,450.6 735.7,452.6 735.8,452.7 735.9,453.6 736.0,453.1 736.2,452.0 736.3,452.4 736.4,453.3 736.5,451.8 736.7,449.3 736.8,449.7 736.9,451.4 737.0,453.3 737.2,454.1 737.3,453.9 737.4,452.7 737.5,451.5 737.7,450.3 737.8,443.8 737.9,442.8 738.0,442.5 738.2,439.1 738.3,438.1 738.4,438.1 738.5,441.0 738.7,442.3 738.8,442.5 738.9,441.3 739.0,437.3 739.2,435.1 739.3,432.3 739.4,433.6 739.5,432.3 739.6,432.2 739.8,433.2 739.9,432.1 740.0,433.3 740.1,429.4 740.3,430.5 740.4,431.3 740.5,427.9 740.6,427.4 740.8,429.7 740.9,430.1 741.0,426.6 741.1,427.4 741.3,428.6 741.4,429.8 741.5,428.8 741.6,426.8 741.7,427.8 741.9,430.1 742.0,427.4 742.1,432.0 742.2,432.4 742.4,433.7 742.5,433.0 742.6,432.9 742.7,432.4 742.9,433.0 743.0,434.3 743.1,433.6 743.2,434.2 743.4,433.3 743.5,434.5 743.6,438.0 743.8,437.1 743.9,440.7 744.0,442.0 744.2,441.5 744.3,442.7 744.4,446.1 744.6,449.4 744.7,449.6 744.8,451.7 744.9,452.5 745.1,453.2 745.2,454.1 745.3,458.2 745.4,456.2 745.6,456.4 745.7,454.5 745.8,456.7 745.9,459.3 746.1,457.4 746.2,456.4 746.3,456.8 746.4,456.1 746.6,455.6 746.7,454.8 746.8,454.2 746.9,452.9 747.1,452.7 747.2,448.5 747.3,446.5 747.4,447.0 747.6,446.2 747.7,448.0 747.8,451.3 747.9,449.4 748.0,448.5 748.2,449.9 748.3,453.5 748.4,455.8 748.5,457.5 748.7,458.0 748.8,457.8 748.9,459.3 749.0,459.1 749.1,457.3 749.3,453.5 749.4,451.2 749.5,449.8 749.6,446.9 749.7,447.0 749.9,443.5 750.0,444.3 750.1,444.2 750.2,443.6 750.4,443.6 750.5,445.5 750.6,443.4 750.7,445.3 750.8,442.9 751.0,442.1 751.1,441.0 751.2,439.9 751.3,441.0 751.4,440.0 751.6,444.2 751.7,444.1 751.8,444.0 751.9,441.9 752.1,440.6 752.2,441.6 752.3,442.6 752.4,443.5 752.5,442.1 752.7,441.7 752.8,443.0 752.9,441.0 753.0,439.7 753.1,443.8 753.3,443.8 753.4,447.0 753.5,450.9 753.6,452.4 753.8,451.2 753.9,448.5 754.0,447.4 754.1,446.7 754.2,446.1 754.4,445.5 754.5,443.8 754.6,445.2 754.7,444.0 754.8,442.2 755.0,443.4 755.1,440.4 755.2,439.6 755.3,438.7 755.5,440.9 755.6,439.3 755.7,437.2 755.8,435.8 755.9,433.6 756.1,431.8 756.2,429.8 756.3,430.6 756.4,430.5 756.6,429.1 756.7,429.6 756.8,432.6 756.9,431.2 757.1,433.4 757.2,429.7 757.3,430.6 757.4,428.9 757.5,425.8 757.7,425.1 757.8,422.8 757.9,421.6 758.0,421.4 758.2,422.8 758.3,422.7 758.4,422.8 758.5,425.4 758.7,428.2 758.8,426.8 758.9,421.8 759.0,419.6 759.2,420.8 759.3,419.9 759.4,419.6 759.5,424.0 759.6,424.9 759.8,424.7 759.9,423.8 760.0,422.0 760.1,429.3 760.3,430.0 760.4,431.0 760.5,431.0 760.6,428.4 760.8,430.0 760.9,428.8 761.0,428.2 761.1,429.7 761.2,429.3 761.4,427.0 761.5,426.3 761.6,424.2 761.7,422.1 761.9,422.1 762.0,422.5 762.1,420.7 762.2,423.1 762.3,422.6 762.5,422.7 762.6,421.2 762.7,421.8 762.8,422.1 762.9,418.8 763.1,419.0 763.2,416.2 763.3,415.1 763.4,415.6 763.6,418.0 763.7,415.6 763.8,413.4 763.9,414.4 764.1,412.7 764.2,414.8 764.3,414.7 764.4,416.2 764.6,413.8 764.7,412.6 764.8,414.0 764.9,414.3 765.0,412.6 765.2,414.2 765.3,415.9 765.4,414.0 765.5,412.8 765.7,413.9 765.8,413.9 765.9,412.6 766.0,414.1 766.2,411.6 766.3,413.8 766.4,414.4 766.5,412.0 766.7,411.6 766.8,411.1 766.9,411.9 767.0,410.2 767.1,412.2 767.3,408.7 767.4,407.7 767.5,410.4 767.6,409.6 767.8,407.9 767.9,409.8 768.0,412.7 768.1,411.9 768.3,411.1 768.4,406.9 768.5,406.1 768.6,406.1 768.7,408.7 768.9,407.4 769.0,407.6 769.1,406.5 769.2,407.6 769.4,406.3 769.5,404.8 769.6,407.8 769.7,411.6 769.9,410.5 770.0,412.5 770.1,411.7 770.2,408.8 770.4,410.9 770.5,412.0 770.6,412.5 770.7,416.4 770.8,419.1 770.9,421.2 771.1,419.9 771.2,416.3 771.3,414.4 771.4,414.4 771.6,411.0 771.7,409.2 771.8,413.9 771.9,413.2 772.1,409.1 772.2,405.7 772.3,405.2 772.4,407.1 772.6,407.6 772.7,407.7 772.8,404.5 772.9,406.2 773.1,404.1 773.2,407.9 773.3,405.7 773.4,404.4 773.6,404.3 773.7,405.9 773.8,405.7 773.9,407.1 774.0,404.9 774.2,404.7 774.3,404.8 774.4,404.1 774.5,404.8 774.7,402.0 774.8,404.6 774.9,403.0 775.0,404.1 775.2,403.7 775.3,401.1 775.4,398.2 775.5,398.1 775.6,398.6 775.8,400.8 775.9,397.2 776.0,396.8 776.1,400.5 776.3,406.0 776.4,406.6 776.5,410.6 776.6,410.2 776.7,409.2 776.9,409.5 777.0,409.0 777.1,409.7 777.2,409.6 777.4,409.8 777.5,408.1 777.6,406.5 777.7,405.1 777.9,406.0 778.0,409.0 778.1,408.8 778.2,405.5 778.4,405.1 778.5,404.0 778.6,405.0 778.7,406.1 778.9,410.4 779.0,409.5 779.1,412.4 779.2,412.7 779.4,414.0 779.5,413.3 779.6,416.9 779.7,417.9 779.9,417.1 780.0,414.3 780.1,416.7 780.3,414.1 780.4,410.8 780.5,407.5 780.7,410.8 780.8,410.4 780.9,406.1 781.1,405.9 781.2,406.7 781.3,405.5 781.4,406.6 781.6,405.4 781.7,406.5 781.8,406.6 781.9,406.9 782.1,406.7 782.2,407.4 782.3,407.1 782.4,410.7 782.6,417.2 782.7,421.4 782.8,419.4 782.9,421.8 783.0,423.5 783.2,427.6 783.3,429.7 783.4,427.3 783.5,427.4 783.6,428.9 783.8,426.2 783.9,428.2 784.0,429.7 784.1,431.9 784.3,433.0 784.4,435.1 784.5,437.6 784.7,442.2 784.8,442.5 784.9,442.2 785.0,442.4 785.2,444.2 785.3,440.7 785.4,443.8 785.5,440.1 785.6,437.2 785.8,436.4 785.9,433.5 786.0,433.3 786.1,430.6 786.2,431.6 786.4,430.7 786.5,432.3 786.6,431.5 786.8,432.9 786.9,434.6 787.0,441.3 787.2,442.5 787.3,440.6 787.4,442.5 787.6,441.6 787.7,445.5 787.8,451.2 787.9,452.7 788.1,452.9 788.2,455.9 788.3,455.4 788.4,455.7 788.6,456.5 788.7,457.4 788.8,457.8 788.9,455.8 789.1,452.2 789.2,449.5 789.3,448.4 789.4,447.0 789.6,443.3 789.7,440.0 789.8,441.1 789.9,441.5 790.1,440.8 790.2,442.0 790.3,435.6 790.4,434.4 790.6,429.4 790.7,429.6 790.8,430.5 791.0,430.6 791.1,425.8 791.2,425.7 791.4,424.6 791.5,424.7 791.6,425.3 791.8,428.0 791.9,428.0 792.0,433.6 792.2,433.6 792.3,433.7 792.4,435.5 792.5,436.8 792.7,441.6 792.8,438.9 792.9,437.0 793.0,443.6 793.2,447.2 793.3,450.4 793.4,449.7 793.5,446.3 793.7,444.3 793.8,440.8 793.9,441.9 794.0,442.0 794.2,441.2 794.3,440.7 794.4,439.1 794.5,435.9 794.7,437.6 794.8,437.3 794.9,437.0 795.0,438.2 795.1,439.8 795.3,440.3 795.4,441.1 795.5,439.5 795.6,441.4 795.7,440.3 795.9,439.3 796.0,439.7 796.1,440.1 796.2,440.6 796.4,434.8 796.5,430.8 796.6,431.6 796.7,429.6 796.8,430.7 797.0,430.7 797.1,432.8 797.2,431.7 797.3,429.5 797.5,430.8 797.6,430.4 797.7,427.9 797.8,432.3 798.0,430.8 798.1,430.1 798.2,429.7 798.3,426.9 798.5,426.1 798.6,426.5 798.7,428.0 798.8,425.8 798.9,426.6 799.1,429.0 799.2,427.4 799.3,426.8 799.4,422.1 799.6,419.7 799.7,420.3 799.8,419.1 799.9,419.9 800.1,419.8 800.2,419.9 800.3,420.7 800.4,420.9 800.5,417.8 800.7,420.5 800.8,420.9 800.9,415.9 801.0,414.1 801.2,416.7 801.3,414.1 801.4,415.7 801.5,419.1 801.7,417.8 801.8,419.8 801.9,417.1 802.0,414.3 802.1,414.9 802.3,412.3 802.4,413.3 802.5,414.4 802.6,415.6 802.8,412.2 802.9,415.5 803.0,412.2 803.1,415.6 803.3,412.3 803.4,412.9 803.5,412.2 803.6,412.2 803.8,412.7 803.9,414.2 804.0,415.2 804.1,413.0 804.2,412.6 804.4,414.0 804.5,413.6 804.6,414.5 804.7,415.1 804.9,417.4 805.0,419.3 805.1,418.3 805.2,420.9 805.3,420.3 805.5,421.1 805.6,420.5 805.7,419.9 805.8,419.0 806.0,417.2 806.1,417.7 806.2,419.0 806.3,420.5 806.5,417.4 806.6,419.0 806.7,418.7 806.8,418.1 807.0,417.6 807.1,417.9 807.2,418.4 807.3,418.1 807.4,420.3 807.6,421.3 807.7,420.8 807.8,419.8 807.9,421.9 808.1,422.0 808.2,426.3 808.3,428.3 808.4,429.2 808.5,433.0 808.7,431.7 808.8,431.9 808.9,435.4 809.0,435.7 809.2,435.3 809.3,432.9 809.4,434.8 809.5,437.7 809.7,436.3 809.8,442.2 809.9,443.9 810.0,443.1 810.2,441.4 810.3,443.9 810.4,436.6 810.5,440.8 810.6,440.4 810.8,439.5 810.9,439.4 811.0,436.0 811.1,437.3 811.3,437.4 811.4,437.3 811.5,435.2 811.6,431.7 811.7,433.3 811.9,433.4 812.0,432.7 812.1,431.2 812.2,432.6 812.4,435.4 812.5,435.0 812.6,432.8 812.7,432.9 812.9,434.3 813.0,434.7 813.1,433.2 813.2,432.7 813.4,435.7 813.5,434.3 813.6,435.4 813.7,435.6 813.8,435.5 814.0,435.0 814.1,432.2 814.2,429.6 814.3,429.0 814.5,428.2 814.6,428.7 814.7,429.0 814.8,425.3 815.0,425.9 815.1,425.7 815.2,428.1 815.3,429.9 815.5,425.3 815.6,424.7 815.7,425.1 815.8,425.9 816.0,425.7 816.1,422.9 816.2,424.5 816.4,422.8 816.5,423.1 816.6,422.3 816.7,424.1 816.8,424.0 817.0,424.9 817.1,424.3 817.2,424.2 817.3,425.5 817.4,424.8 817.6,423.3 817.7,424.3 817.8,424.8 817.9,424.8 818.1,422.9 818.2,423.1 818.3,423.0 818.4,422.9 818.5,421.5 818.7,422.2 818.8,420.4 818.9,422.1 819.0,420.4 819.1,422.1 819.3,421.3 819.4,419.8 819.5,415.9 819.6,415.5 819.8,414.4 819.9,414.1 820.0,413.2 820.1,412.3 820.3,416.6 820.4,416.3 820.5,416.8 820.6,414.5 820.8,411.2 820.9,412.0 821.0,413.2 821.1,413.3 821.3,411.5 821.4,416.7 821.5,415.0 821.6,413.6 821.8,413.7 821.9,413.6 822.0,411.3 822.1,412.3 822.2,412.6 822.4,411.8 822.5,413.1 822.6,415.0 822.7,418.0 822.9,417.9 823.0,416.5 823.1,417.0 823.2,422.2 823.3,421.8 823.5,422.2 823.6,421.4 823.7,424.1 823.8,423.7 824.0,420.2 824.1,421.2 824.2,423.8 824.3,424.4 824.4,425.4 824.6,423.0 824.7,423.0 824.8,420.2 824.9,419.1 825.1,416.6 825.2,416.0 825.3,417.9 825.5,417.8 825.6,420.5 825.7,421.3 825.8,421.0 826.0,418.7 826.1,418.8 826.2,415.9 826.3,413.5 826.5,411.0 826.6,412.0 826.7,415.3 826.8,414.0 826.9,414.9 827.1,415.1 827.2,412.5 827.3,416.8 827.4,416.7 827.5,414.8 827.7,411.3 827.8,412.0 827.9,412.4 828.0,412.9 828.2,410.2 828.3,406.6 828.4,409.1 828.6,407.5 828.7,408.9 828.8,413.3 829.0,413.1 829.1,412.3 829.2,406.5 829.3,408.0 829.5,403.8 829.6,406.0 829.7,404.7 829.8,404.5 830.0,405.5 830.1,401.9 830.2,405.5 830.3,403.8 830.5,399.9 830.6,400.3 830.7,399.0 830.8,400.1 831.0,402.0 831.1,403.1 831.2,404.9 831.3,405.1 831.4,405.5 831.6,402.5 831.7,398.8 831.8,398.0 831.9,399.7 832.1,401.3 832.2,401.3 832.3,400.0 832.4,400.1 832.6,402.3 832.7,400.2 832.8,399.7 832.9,399.4 833.1,402.6 833.2,401.3 833.3,398.1 833.4,399.0 833.5,401.1 833.7,401.7 833.8,402.5 833.9,399.2 834.0,402.2 834.2,400.7 834.3,395.7 834.4,395.2 834.5,398.0 834.7,398.6 834.8,398.8 834.9,395.6 835.0,397.4 835.1,395.9 835.3,395.1 835.4,397.4 835.5,396.3 835.6,395.8 835.8,397.8 835.9,398.5 836.0,396.0 836.1,397.4 836.3,399.2 836.4,399.0 836.5,399.1 836.6,395.8 836.8,394.9 836.9,397.3 837.0,398.7 837.1,395.0 837.2,395.2 837.4,396.0 837.5,396.8 837.6,398.8 837.7,395.4 837.9,392.7 838.0,390.9 838.1,392.2 838.2,390.1 838.3,391.4 838.5,389.4 838.6,392.6 838.7,389.5 838.8,390.3 838.9,390.8 839.1,389.6 839.2,390.9 839.3,389.1 839.4,389.7 839.6,391.7 839.7,390.2 839.8,388.6 839.9,383.0 840.1,385.7 840.2,384.6 840.3,383.7 840.4,383.2 840.6,384.0 840.7,383.8 840.8,382.4 840.9,385.6 841.1,382.9 841.2,384.1 841.3,385.7 841.4,390.1 841.5,388.9 841.7,390.9 841.8,389.0 841.9,392.9 842.0,392.8 842.1,392.8 842.3,393.2 842.4,393.5 842.5,393.8 842.7,399.0 842.8,398.3 842.9,401.0 843.0,405.2 843.2,404.2 843.3,400.4 843.4,403.7 843.5,401.3 843.7,401.2 843.8,402.9 843.9,405.7 844.0,401.7 844.2,402.3 844.3,400.9 844.4,404.0 844.5,399.5 844.7,397.2 844.8,395.0 844.9,394.4 845.0,393.0 845.1,391.0 845.3,394.2 845.4,391.7 845.5,390.9 845.6,388.6 845.7,390.1 845.9,384.3 846.0,386.9 846.1,385.4 846.2,386.9 846.4,387.2 846.5,389.1 846.6,391.2 846.7,388.4 846.9,385.0 847.0,387.4 847.1,387.2 847.2,384.9 847.4,385.2 847.5,385.0 847.6,389.5 847.7,393.1 847.8,391.0 848.0,391.8 848.1,393.2 848.2,393.6 848.3,394.4 848.5,394.0 848.6,392.9 848.7,393.4 848.8,394.0 849.0,391.0 849.1,389.9 849.2,392.2 849.3,393.0 849.4,392.8 849.6,391.3 849.7,392.0 849.8,389.8 849.9,389.6 850.1,391.2 850.2,389.3 850.3,389.1 850.4,388.5 850.6,389.1 850.7,387.6 850.8,387.9 850.9,381.6 851.1,379.9 851.2,381.1 851.3,381.9 851.4,378.0 851.5,379.6 851.7,381.0 851.8,381.2 851.9,380.6 852.0,379.9 852.1,377.7 852.3,378.8 852.4,381.5 852.5,379.1 852.6,380.9 852.8,378.6 852.9,380.1 853.0,381.0 853.1,381.1 853.2,377.2 853.4,376.9 853.5,376.6 853.6,376.3 853.7,377.0 853.9,373.9 854.0,373.3 854.1,374.8 854.2,376.9 854.4,377.4 854.5,375.3 854.6,369.8 854.7,374.3 854.8,371.2 855.0,370.2 855.1,370.9 855.2,370.2 855.3,371.2 855.5,371.9 855.6,372.1 855.7,369.3 855.8,370.5 856.0,369.2 856.1,373.2 856.2,373.3 856.3,373.3 856.4,373.3 856.6,370.0 856.7,370.4 856.8,371.7 856.9,373.1 857.1,372.8 857.2,373.6 857.3,372.3 857.4,373.8 857.6,370.9 857.7,372.8 857.8,372.7 857.9,372.2 858.1,373.1 858.2,372.0 858.3,372.2 858.4,373.9 858.5,370.9 858.7,370.4 858.8,371.3 858.9,371.1 859.0,369.9 859.2,366.3 859.3,369.6 859.4,371.9 859.5,370.2 859.7,372.1 859.8,371.2 859.9,371.2 860.0,368.9 860.1,369.6 860.3,370.2 860.4,369.0 860.5,371.3 860.6,371.6 860.8,367.9 860.9,364.2 861.0,364.7 861.1,366.7 861.3,367.5 861.4,368.0 861.5,364.6 861.6,366.6 861.8,366.5 861.9,367.2 862.0,365.4 862.1,366.5 862.3,367.2 862.4,369.9 862.5,367.8 862.6,366.4 862.8,369.8 862.9,368.4 863.0,370.3 863.1,373.8 863.3,371.3 863.4,376.5 863.5,379.4 863.6,378.0 863.8,375.3 863.9,375.6 864.0,377.6 864.1,380.0 864.3,380.1 864.4,378.0 864.5,375.5 864.6,372.1 864.7,370.7 864.9,371.9 865.0,369.6 865.1,367.0 865.2,363.3 865.4,363.1 865.5,363.5 865.6,366.0 865.7,363.5 865.8,364.1 866.0,365.9 866.1,365.4 866.2,362.9 866.3,364.3 866.5,364.3 866.6,362.9 866.7,362.9 866.8,362.9 867.0,363.9 867.1,363.8 867.2,365.2 867.3,362.0 867.4,361.0 867.6,361.1 867.7,359.5 867.8,363.1 867.9,361.2 868.0,360.3 868.2,359.9 868.3,361.3 868.4,360.0 868.5,362.0 868.7,359.8 868.8,360.3 868.9,362.4 869.0,361.8 869.1,363.0 869.3,360.6 869.4,361.8 869.5,359.8 869.6,361.2 869.8,360.7 869.9,360.0 870.0,362.7 870.1,363.0 870.3,360.2 870.4,360.9 870.5,361.9 870.6,362.2 870.7,362.3 870.9,362.6 871.0,360.8 871.1,356.6 871.2,358.8 871.4,362.4 871.5,362.5 871.6,358.6 871.7,358.3 871.9,356.8 872.0,358.2 872.1,358.5 872.2,356.7 872.4,358.7 872.5,356.6 872.6,356.5 872.7,357.3 872.8,356.6 873.0,352.8 873.1,354.2 873.2,351.5 873.3,350.6 873.5,350.1 873.6,353.2 873.7,352.1 873.8,352.9 874.0,352.5 874.1,351.1 874.2,354.1 874.3,353.0 874.4,354.7 874.6,355.9 874.7,350.4 874.8,351.1 874.9,350.9 875.1,350.8 875.2,349.9 875.3,347.5 875.4,345.8 875.6,347.8 875.7,348.6 875.8,349.4 875.9,350.1 876.1,349.1 876.2,346.6 876.3,348.6 876.4,348.4 876.5,347.6 876.7,346.5 876.8,346.6 876.9,347.7 877.0,347.9 877.2,346.4 877.3,349.4 877.4,348.0 877.5,348.6 877.7,347.4 877.8,347.3 877.9,348.5 878.0,347.6 878.1,345.9 878.3,347.9 878.4,348.5 878.5,346.4 878.6,349.4 878.8,349.9 878.9,348.3 879.0,349.1 879.2,348.2 879.3,348.2 879.4,351.5 879.6,353.0 879.7,354.9 879.8,357.3 879.9,358.1 880.1,355.0 880.2,348.5 880.3,348.6 880.4,349.3 880.6,352.2 880.7,353.2 880.8,357.1 880.9,357.3 881.0,353.8 881.2,355.4 881.3,351.1 881.4,347.5 881.5,346.8 881.6,349.9 881.8,348.8 881.9,350.2 882.0,351.6 882.1,351.0 882.3,352.4 882.4,347.7 882.5,349.4 882.6,346.8 882.7,348.2 882.9,346.8 883.0,351.4 883.1,352.3 883.2,355.8 883.3,362.2 883.5,361.2 883.6,361.6 883.7,360.8 883.8,362.5 883.9,362.1 884.1,357.9 884.2,353.9 884.3,356.6 884.4,357.9 884.6,361.3 884.7,360.2 884.8,360.3 885.0,364.5 885.1,367.5 885.2,368.6 885.3,367.3 885.5,369.5 885.6,369.8 885.7,374.1 885.9,371.7 886.0,365.7 886.1,370.1 886.3,369.3 886.4,368.2 886.5,365.8 886.7,363.6 886.8,361.2 886.9,359.3 887.0,357.0 887.2,356.6 887.3,356.9 887.4,357.4 887.5,358.7 887.7,352.8 887.8,350.9 887.9,353.1 888.0,352.8 888.2,353.5 888.3,353.2 888.4,351.9 888.5,351.0 888.6,354.5 888.8,351.7 888.9,351.8 889.0,351.3 889.1,351.0 889.3,352.0 889.4,352.9 889.5,350.7 889.6,352.0 889.7,353.6 889.9,351.7 890.0,350.7 890.1,353.5 890.2,355.3 890.4,357.1 890.5,357.3 890.6,359.8 890.7,361.8 890.9,357.8 891.0,357.3 891.1,356.2 891.3,359.7 891.4,356.5 891.5,361.9 891.7,366.2 891.8,363.6 891.9,365.6 892.0,364.9 892.1,363.3 892.3,363.8 892.4,364.1 892.5,365.6 892.6,366.8 892.7,364.7 892.9,366.8 893.0,365.5 893.1,362.9 893.2,363.3 893.4,359.7 893.5,364.0 893.6,361.9 893.7,361.7 893.8,360.8 894.0,359.8 894.1,363.0 894.2,362.2 894.3,359.1 894.4,358.4 894.6,356.6 894.7,358.8 894.8,357.3 894.9,352.5 895.1,357.1 895.2,355.7 895.3,357.9 895.4,359.0 895.6,357.8 895.7,358.2 895.8,350.5 895.9,352.2 896.0,350.7 896.2,351.9 896.3,354.4 896.4,346.7 896.5,346.2 896.7,345.9 896.8,347.5 896.9,350.7 897.0,349.0 897.1,352.0 897.3,350.4 897.4,353.6 897.5,353.9 897.6,354.1 897.8,355.3 897.9,351.0 898.0,350.8 898.1,347.8 898.2,351.5 898.4,356.4 898.5,348.8 898.6,349.0 898.7,347.1 898.9,350.5 899.0,350.0 899.1,348.2 899.2,349.3 899.4,350.7 899.5,350.3 899.6,348.0 899.7,348.5 899.9,345.5 900.0,349.6 900.1,343.2 900.2,341.7 900.4,344.2 900.5,343.8 900.6,341.8 900.7,342.7 900.9,343.5 901.0,343.1 901.1,343.7 901.2,341.7 901.3,342.3 901.5,340.8 901.6,340.3 901.7,341.6 901.8,341.3 902.0,339.4 902.1,342.1 902.2,339.3 902.3,340.3 902.5,340.8 902.6,341.6 902.7,340.7 902.8,341.7 902.9,342.1 903.1,339.5 903.2,339.6 903.3,339.3 903.4,341.0 903.6,340.1 903.7,340.0 903.8,343.3 903.9,343.2 904.1,340.7 904.2,339.1 904.3,339.9 904.4,339.9 904.6,338.8 904.7,338.9 904.8,345.1 904.9,345.2 905.1,346.5 905.2,346.8 905.3,344.2 905.4,344.6 905.6,346.1 905.7,345.7 905.8,346.0 905.9,345.4 906.0,346.4 906.2,345.8 906.3,344.8 906.4,344.1 906.5,343.7 906.6,344.5 906.8,346.2 906.9,344.1 907.0,343.4 907.2,345.0 907.3,344.4 907.4,344.6 907.6,349.5 907.7,347.6 907.8,349.4 908.0,355.3 908.1,358.3 908.2,355.6 908.3,353.4 908.5,355.2 908.6,354.1 908.7,356.4 908.8,357.5 909.0,355.0 909.1,355.0 909.2,357.3 909.3,356.4 909.5,356.2 909.6,354.4 909.7,357.2 909.8,351.9 910.0,352.0 910.1,351.3 910.2,351.4 910.3,350.1 910.5,350.7 910.6,351.4 910.7,353.0 910.8,352.3 911.0,354.5 911.1,357.5 911.2,360.1 911.3,360.8 911.4,360.0 911.6,355.5 911.7,352.9 911.8,352.2 911.9,355.3 912.0,358.9 912.2,359.3 912.3,363.1 912.4,368.4 912.6,373.1 912.7,373.4 912.8,372.5 913.0,372.2 913.1,371.4 913.2,376.7 913.4,380.0 913.5,380.2 913.6,378.6 913.7,381.6 913.9,381.5 914.0,381.6 914.1,376.5 914.3,371.4 914.4,368.9 914.5,370.2 914.7,368.1 914.8,369.0 914.9,372.1 915.0,369.9 915.2,376.7 915.3,375.8 915.4,380.2 915.5,383.5 915.7,382.7 915.8,383.6 915.9,385.0 916.0,385.5 916.2,384.1 916.3,377.4 916.4,376.0 916.6,371.1 916.7,368.8 916.8,367.8 917.0,365.9 917.1,367.2 917.2,365.2 917.4,367.4 917.5,365.6 917.6,366.4 917.7,366.7 917.9,368.3 918.0,368.5 918.1,365.4 918.2,366.9 918.4,363.5 918.5,366.5 918.6,363.2 918.7,362.7 918.9,360.3 919.0,361.5 919.1,361.2 919.2,360.0 919.4,359.5 919.5,362.5 919.6,359.4 919.7,363.5 919.8,359.3 920.0,362.6 920.1,364.9 920.2,365.4 920.3,361.2 920.5,365.2 920.6,361.4 920.7,364.2 920.8,363.2 921.0,361.7 921.1,364.9 921.2,365.9 921.4,363.9 921.5,364.3 921.6,362.3 921.8,361.2 921.9,366.6 922.0,363.2 922.1,363.3 922.3,366.6 922.4,367.5 922.5,366.8 922.7,363.0 922.8,367.6 922.9,367.0 923.0,362.9 923.2,361.0 923.3,365.3 923.4,373.1 923.5,370.0 923.7,371.8 923.8,373.3 923.9,373.7 924.0,372.7 924.2,367.9 924.3,368.4 924.4,368.2 924.5,367.4 924.7,365.4 924.8,367.8 924.9,368.1 925.1,372.5 925.2,377.2 925.3,378.9 925.5,383.1 925.6,386.9 925.7,385.5 925.8,386.7 926.0,391.5 926.1,393.1 926.2,391.6 926.4,392.1 926.5,394.6 926.6,395.9 926.8,394.8 926.9,396.0 927.0,393.9 927.2,395.4 927.3,394.1 927.4,394.5 927.6,400.6 927.7,400.6 927.8,399.7 927.9,399.7 928.1,400.8 928.2,396.6 928.3,398.6 928.5,398.0 928.6,401.5 928.7,399.1 928.8,399.3 929.0,391.4 929.1,388.0 929.2,383.9 929.3,385.0 929.5,386.0 929.6,383.0 929.7,378.3 929.8,377.1 930.0,380.0 930.1,378.9 930.2,382.5 930.3,380.6 930.5,378.7 930.6,376.8 930.7,375.1 930.8,374.5 931.0,372.1 931.1,371.0 931.2,373.8 931.3,375.9 931.4,375.6 931.6,373.9 931.7,370.8 931.8,371.2 931.9,370.8 932.0,375.1 932.2,370.1 932.3,371.1 932.4,367.3 932.5,371.3 932.7,372.1 932.8,372.5 932.9,368.1 933.0,369.0 933.1,369.9 933.3,368.1 933.4,371.4 933.5,370.3 933.6,362.2 933.7,363.3 933.9,363.3 934.0,368.0 934.1,368.5 934.2,370.0 934.4,365.2 934.5,362.1 934.6,363.6 934.7,364.3 934.8,362.8 935.0,365.7 935.1,369.2 935.2,368.9 935.3,365.0 935.4,369.2 935.6,371.6 935.7,373.1 935.8,374.0 936.0,373.9 936.1,372.0 936.2,372.5 936.4,370.1 936.5,372.0 936.6,373.1 936.7,374.2 936.9,374.2 937.0,374.3 937.1,370.8 937.2,373.9 937.4,372.3 937.5,372.9 937.6,369.9 937.7,373.6 937.8,372.4 938.0,368.2 938.1,368.0 938.2,362.3 938.3,364.1 938.5,368.2 938.6,371.7 938.7,374.2 938.8,373.1 939.0,377.4 939.1,378.4 939.2,378.1 939.3,373.9 939.5,379.7 939.6,381.0 939.7,373.8 939.8,375.1 940.0,373.3 940.1,374.8 940.2,373.2 940.3,369.2 940.4,369.4 940.6,363.3 940.7,362.3 940.8,363.8 940.9,362.3 941.1,363.4 941.2,364.4 941.3,364.3 941.4,362.9 941.6,360.6 941.7,361.3 941.8,359.0 941.9,357.6 942.1,360.6 942.2,360.5 942.3,358.1 942.4,359.5 942.5,358.3 942.7,354.8 942.8,352.9 942.9,358.2 943.0,355.5 943.2,352.5 943.3,355.4 943.4,355.7 943.5,355.4 943.7,353.9 943.8,354.9 943.9,353.4 944.0,355.0 944.1,352.7 944.3,353.6 944.4,354.5 944.5,353.4 944.6,353.9 944.8,352.6 944.9,352.6 945.0,351.9 945.1,354.1 945.2,353.4 945.4,353.6 945.5,351.9 945.6,354.0 945.7,352.9 945.9,353.1 946.0,353.9 946.1,352.4 946.2,354.3 946.3,356.5 946.5,353.7 946.6,354.6 946.7,356.0 946.8,355.2 946.9,356.0 947.1,358.2 947.2,357.7 947.3,358.7 947.4,356.1 947.6,359.2 947.7,358.3 947.8,358.9 947.9,358.4 948.0,357.2 948.2,356.8 948.3,358.5 948.4,358.0 948.5,356.7 948.6,357.5 948.8,356.8 948.9,357.9 949.0,357.3 949.1,357.2 949.3,357.3 949.4,356.2 949.5,358.5 949.6,358.0 949.7,357.4 949.9,362.5 950.0,362.3 950.1,360.8 950.2,359.5 950.4,362.7 950.5,360.6 950.6,358.5 950.7,361.2 950.9,364.1 951.0,365.8 951.1,364.5 951.2,365.2 951.3,366.5 951.5,361.6 951.6,361.0 951.7,364.3 951.9,364.9 952.0,357.5 952.1,360.6 952.2,361.7 952.4,360.8 952.5,360.8 952.6,359.8 952.7,363.3 952.9,363.2 953.0,358.3 953.1,358.6 953.2,357.4 953.4,357.3 953.5,357.7 953.6,357.1 953.7,358.0 953.9,356.0 954.0,355.9 954.1,357.2 954.2,358.1 954.4,357.3 954.5,356.4 954.6,350.3 954.7,350.7 954.8,350.4 955.0,350.4 955.1,348.4 955.2,348.0 955.3,350.8 955.5,349.2 955.6,347.8 955.7,349.9 955.8,350.2 956.0,350.6 956.1,349.3 956.2,351.2 956.3,348.1 956.4,350.1 956.6,348.4 956.7,349.8 956.8,350.1 956.9,348.5 957.1,344.9 957.2,348.7 957.3,342.2 957.4,343.9 957.6,346.2 957.7,342.6 957.8,341.5 957.9,343.4 958.1,347.3 958.2,347.1 958.3,341.5 958.4,347.8 958.5,341.6 958.7,341.6 958.8,344.2 958.9,342.5 959.0,340.9 959.2,336.9 959.3,335.1 959.4,337.9 959.5,340.2 959.7,337.4 959.8,338.2 959.9,341.4 960.0,336.6 960.1,335.2 960.3,334.5 960.4,340.6 960.5,337.2 960.6,334.7 960.8,336.6 960.9,335.6 961.0,334.7 961.1,334.7 961.3,334.1 961.4,334.6 961.5,334.8 961.6,336.0 961.8,334.6 961.9,334.5 962.0,334.1 962.1,336.3 962.2,336.1 962.4,335.8 962.5,334.3 962.6,334.5 962.7,334.7 962.9,334.7 963.0,334.6 963.1,336.8 963.2,336.1 963.4,335.0 963.5,336.1 963.6,335.0 963.7,336.0 963.8,334.0 964.0,337.0 964.1,336.0 964.2,337.1 964.3,335.3 964.5,334.6 964.6,334.2 964.7,333.8 964.8,336.6 965.0,335.3 965.1,334.8 965.2,334.7 965.3,333.0 965.4,335.4 965.6,336.5 965.7,335.2 965.8,330.9 965.9,330.4 966.1,335.6 966.2,335.5 966.3,332.7 966.4,328.4 966.6,330.0 966.7,328.9 966.8,329.7 966.9,327.3 967.0,326.6 967.2,322.3 967.3,324.0 967.4,323.2 967.5,323.2 967.7,322.2 967.8,328.1 967.9,329.2 968.0,330.9 968.1,329.2 968.3,328.2 968.4,327.6 968.5,330.7 968.6,326.7 968.8,327.6 968.9,325.5 969.0,329.3 969.1,326.2 969.2,323.8 969.4,322.8 969.5,324.1 969.6,322.7 969.7,324.2 969.9,324.4 970.0,324.1 970.1,322.4 970.2,322.3 970.4,323.1 970.5,322.7 970.6,322.9 970.7,323.7 970.9,323.1 971.0,322.9 971.1,322.3 971.2,323.2 971.4,324.1 971.5,323.7 971.6,322.8 971.7,323.8 971.9,322.4 972.0,323.6 972.1,321.4 972.2,319.8 972.4,323.1 972.5,324.6 972.6,322.5 972.7,322.1 972.9,324.4 973.0,323.7 973.1,324.0 973.2,324.6 973.4,323.6 973.5,324.7 973.6,323.9 973.7,323.3 973.9,320.3 974.0,321.0 974.1,316.9 974.2,317.3 974.3,318.3 974.5,316.1 974.6,318.2 974.7,317.5 974.8,316.8 975.0,320.2 975.1,320.7 975.2,320.2 975.3,318.2 975.5,319.0 975.6,319.6 975.7,318.3 975.8,316.0 976.0,316.9 976.1,319.9 976.2,316.5 976.3,317.9 976.4,321.3 976.6,319.2 976.7,321.0 976.8,318.0 976.9,320.4 977.1,317.7 977.2,316.1 977.3,313.8 977.4,313.1 977.6,314.1 977.7,312.5 977.8,316.2 977.9,312.8 978.0,313.0 978.2,311.7 978.3,313.1 978.4,310.1 978.5,312.2 978.7,313.1 978.8,313.4 978.9,310.2 979.0,313.9 979.2,312.6 979.3,310.1 979.4,310.8 979.5,310.5 979.6,309.1 979.8,310.9 979.9,310.8 980.0,310.0 980.1,305.7 980.3,305.7 980.4,307.1 980.5,306.9 980.7,305.0 980.8,307.7 980.9,310.4 981.1,308.2 981.2,305.8 981.3,309.0 981.4,306.9 981.6,308.4 981.7,304.0 981.8,304.2 981.9,303.0 982.1,302.1 982.2,303.8 982.3,304.4 982.4,303.5 982.6,303.0 982.7,302.3 982.8,303.1 982.9,302.0 983.1,301.8 983.2,302.1 983.3,304.4 983.4,304.2 983.5,304.0 983.7,302.0 983.8,300.7 983.9,301.2 984.0,302.2 984.2,301.8 984.3,300.0 984.4,301.1 984.5,301.6 984.7,302.1 984.8,298.2 984.9,299.2 985.0,302.1 985.1,302.0 985.3,299.5 985.4,299.1 985.5,300.8 985.6,298.0 985.8,298.8 985.9,293.7 986.0,292.9 986.1,294.6 986.3,298.7 986.4,298.8 986.5,297.7 986.6,298.3 986.8,292.5 986.9,293.1 987.0,292.6 987.1,294.4 987.2,292.4 987.4,292.0 987.5,293.4 987.6,293.1 987.7,289.5 987.9,289.2 988.0,289.6 988.1,289.2 988.2,292.2 988.3,286.8 988.5,287.0 988.6,292.1 988.7,290.8 988.8,280.8 988.9,283.3 989.1,281.1 989.2,282.3 989.3,281.8 989.4,283.7 989.6,281.2 989.7,281.4 989.8,273.2 989.9,266.6 990.1,264.7 990.2,266.5 990.3,270.9 990.4,279.3 990.5,283.0 990.7,283.7 990.8,281.7 990.9,290.6 991.0,291.9 991.2,299.0 991.3,294.8 991.4,296.1 991.5,287.5 991.7,286.6 991.8,282.2 991.9,282.6 992.0,283.0 992.1,283.3 992.3,282.7 992.4,284.0 992.5,281.8 992.7,281.9 992.8,283.2 992.9,282.7 993.0,283.6 993.2,283.2 993.3,283.0 993.4,281.8 993.5,282.3 993.7,279.8 993.8,281.2 993.9,285.2 994.0,281.5 994.1,285.8 994.3,289.6 994.4,295.2 994.5,299.0 994.6,293.1 994.8,292.6 994.9,290.8 995.0,296.9 995.1,296.1 995.3,297.9 995.4,298.3 995.5,291.9 995.6,295.0 995.8,293.5 995.9,288.2 996.0,293.5 996.1,293.5 996.3,293.0 996.4,291.1 996.5,290.0 996.6,294.8 996.7,295.6 996.9,295.4 997.0,292.7 997.1,289.8 997.2,291.0 997.4,293.7 997.5,295.1 997.6,290.6 997.7,291.7 997.8,291.7 998.0,291.9 998.1,286.0 998.2,285.6 998.3,289.6 998.4,288.2 998.6,291.9 998.7,293.6 998.8,295.3 998.9,291.2 999.1,287.2 999.2,290.8 999.3,294.3 999.4,289.9 999.5,287.5 999.7,287.8 999.8,288.0 999.9,288.2 1000.0,289.8 1000.2,290.8 1000.3,292.2 1000.4,290.9 1000.5,291.9 1000.7,293.7 1000.8,292.4 1000.9,291.0 1001.0,293.1 1001.2,290.1 1001.3,294.3 1001.4,290.1 1001.5,292.8 1001.7,292.3 1001.8,293.8 1001.9,289.9 1002.0,287.0 1002.2,288.5 1002.3,290.8 1002.4,288.2 1002.5,292.7 1002.7,298.3 1002.8,295.5 1002.9,297.2 1003.0,295.8 1003.2,297.5 1003.3,297.7 1003.4,297.0 1003.5,295.8 1003.7,295.1 1003.8,297.1 1003.9,292.7 1004.0,298.5 1004.2,295.5 1004.3,297.7 1004.4,297.8 1004.5,293.4 1004.6,298.1 1004.8,296.4 1004.9,292.8 1005.0,287.7 1005.1,289.2 1005.2,287.1 1005.4,286.2 1005.5,286.2 1005.6,292.7 1005.7,292.8 1005.9,290.3 1006.0,285.8 1006.1,285.5 1006.2,285.4 1006.4,286.7 1006.5,288.6 1006.6,287.7 1006.7,290.1 1006.8,292.6 1007.0,288.8 1007.1,291.1 1007.2,293.4 1007.3,293.1 1007.5,292.0 1007.6,287.8 1007.7,290.1 1007.8,294.4 1007.9,289.8 1008.1,288.2 1008.2,290.3 1008.3,291.3 1008.4,293.9 1008.6,292.4 1008.7,289.4 1008.8,290.8 1008.9,283.3 1009.0,283.3 1009.2,282.2 1009.3,283.6 1009.4,283.4 1009.5,283.0 1009.7,283.9 1009.8,282.5 1009.9,283.0 1010.0,282.7 1010.1,283.3 1010.3,283.0 1010.4,283.4 1010.5,283.7 1010.6,282.9 1010.8,282.8 1010.9,282.9 1011.0,284.7 1011.1,288.9 1011.3,287.4 1011.4,284.7 1011.5,288.7 1011.6,292.3 1011.8,285.6 1011.9,283.9 1012.0,291.1 1012.1,292.7 1012.3,291.1 1012.4,295.2 1012.5,299.4 1012.6,306.0 1012.8,300.7 1012.9,303.5 1013.0,304.4 1013.1,302.1 1013.3,306.9 1013.4,303.7 1013.5,304.1 1013.6,303.7 1013.7,304.8 1013.9,307.8 1014.0,302.4 1014.1,304.4 1014.2,303.0 1014.4,308.2 1014.5,312.7 1014.6,313.6 1014.7,315.9 1014.8,318.8 1015.0,307.1 1015.1,308.4 1015.2,301.7 1015.3,305.4 1015.4,303.4 1015.6,306.0 1015.7,301.6 1015.8,304.0 1015.9,308.7 1016.1,313.5 1016.2,307.7 1016.3,305.5 1016.4,302.8 1016.6,306.3 1016.7,308.6 1016.8,314.8 1016.9,314.5 1017.1,316.2 1017.2,316.3 1017.3,315.2 1017.5,310.7 1017.6,304.0 1017.7,304.2 1017.8,305.9 1018.0,306.0 1018.1,305.6 1018.2,319.3 1018.3,323.0 1018.5,321.8 1018.6,324.7 1018.7,322.0 1018.8,327.8 1018.9,327.0 1019.1,331.0 1019.2,331.7 1019.3,331.2 1019.4,344.3 1019.6,344.4 1019.7,340.2 1019.8,334.4 1020.0,335.6 1020.1,334.6 1020.2,328.1 1020.4,331.6 1020.5,328.4 1020.6,321.5 1020.7,322.7 1020.9,319.5 1021.0,315.9 1021.1,315.7 1021.3,313.7 1021.4,316.1 1021.5,317.5 1021.6,313.7 1021.8,311.8 1021.9,312.3 1022.0,314.7 1022.1,312.8 1022.3,309.9 1022.4,310.9 1022.5,308.2 1022.6,309.2 1022.7,305.3 1022.9,302.0 1023.0,308.5 1023.1,311.3 1023.2,306.1 1023.4,309.8 1023.5,308.6 1023.6,313.0 1023.7,307.4 1023.9,306.4 1024.0,304.2 1024.1,301.0 1024.2,298.1 1024.4,297.9 1024.5,297.6 1024.6,300.0 1024.7,300.0 1024.9,298.1 1025.0,297.3 1025.1,301.9 1025.2,300.1 1025.4,300.3 1025.5,298.0 1025.6,300.7 1025.7,296.9 1025.9,299.5 1026.0,296.7 1026.1,301.2 1026.2,303.4 1026.3,305.3 1026.5,304.0 1026.6,300.8 1026.7,299.6 1026.8,299.0 1027.0,295.9 1027.1,296.9 1027.2,300.8 1027.3,290.3 1027.4,287.5 1027.6,290.2 1027.7,293.6 1027.8,289.8 1027.9,290.4 1028.0,289.2 1028.2,286.2 1028.3,285.5 1028.4,287.7 1028.5,289.0 1028.7,289.9 1028.8,287.9 1028.9,289.8 1029.0,290.1 1029.2,286.8 1029.3,286.4 1029.4,288.4 1029.5,288.9 1029.6,289.1 1029.8,289.9 1029.9,286.9 1030.0,286.2 1030.1,292.9 1030.3,292.7 1030.4,294.4 1030.5,295.8 1030.6,294.2 1030.8,295.8 1030.9,293.2 1031.0,291.4 1031.1,291.3 1031.3,292.1 1031.4,295.1 1031.5,293.3 1031.6,293.7 1031.8,293.2 1031.9,295.1 1032.0,298.1 1032.1,299.1 1032.3,300.9 1032.4,303.6 1032.5,303.6 1032.6,304.4 1032.7,301.1 1032.9,302.1 1033.0,305.9 1033.1,308.1 1033.2,305.4 1033.3,307.6 1033.5,305.0 1033.6,306.0 1033.7,307.9 1033.8,307.8 1033.9,304.5 1034.1,299.3 1034.2,301.4 1034.3,292.3 1034.4,293.9 1034.6,289.2 1034.7,285.8 1034.8,289.9 1034.9,288.2 1035.0,282.3 1035.2,288.0 1035.3,286.7 1035.4,284.8 1035.5,283.4 1035.7,280.7 1035.8,280.4 1035.9,284.2 1036.0,283.2 1036.2,281.2 1036.3,280.1 1036.4,284.0 1036.5,281.7 1036.7,281.5 1036.8,281.4 1036.9,282.8 1037.0,281.8 1037.2,280.9 1037.3,282.3 1037.4,283.0 1037.5,281.6 1037.7,281.8 1037.8,281.3 1037.9,282.3 1038.0,284.3 1038.2,281.7 1038.3,287.5 1038.4,291.8 1038.5,296.4 1038.6,298.5 1038.8,299.0 1038.9,297.1 1039.0,298.1 1039.1,299.5 1039.3,297.7 1039.4,296.9 1039.5,298.7 1039.6,300.0 1039.8,299.2 1039.9,303.0 1040.0,301.3 1040.1,299.9 1040.3,297.2 1040.4,298.1 1040.5,299.6 1040.6,301.6 1040.8,301.5 1040.9,302.0 1041.0,303.3 1041.1,304.0 1041.3,298.0 1041.4,294.2 1041.5,294.1 1041.6,294.9 1041.7,291.2 1041.9,295.7 1042.0,295.0 1042.1,290.7 1042.2,287.3 1042.4,290.5 1042.5,286.2 1042.6,285.3 1042.7,285.4 1042.8,287.2 1043.0,290.5 1043.1,287.5 1043.2,290.7 1043.3,289.2 1043.5,292.3 1043.6,292.6 1043.7,297.8 1043.8,296.1 1043.9,294.3 1044.1,295.5 1044.2,294.6 1044.3,292.0 1044.4,295.8 1044.6,294.5 1044.7,290.6 1044.8,288.2 1044.9,287.5 1045.1,287.1 1045.2,282.8 1045.3,279.7 1045.4,286.9 1045.6,284.8 1045.7,289.1 1045.8,286.2 1045.9,286.5 1046.0,282.9 1046.2,274.6 1046.3,278.0 1046.4,275.7 1046.5,276.7 1046.7,279.8 1046.8,276.4 1046.9,272.5 1047.0,274.4 1047.1,276.8 1047.3,275.1 1047.4,277.4 1047.5,275.0 1047.6,273.8 1047.8,271.1 1047.9,271.1 1048.0,270.8 1048.1,271.7 1048.2,274.3 1048.4,271.4 1048.5,270.5 1048.6,275.2 1048.7,270.9 1048.9,273.4 1049.0,271.9 1049.1,273.9 1049.2,274.5 1049.3,274.4 1049.5,273.7 1049.6,273.5 1049.7,271.2 1049.9,261.9 1050.0,264.5 1050.1,262.3 1050.2,262.0 1050.4,270.2 1050.5,271.5 1050.6,268.2 1050.7,263.5 1050.9,259.8 1051.0,265.2 1051.1,261.1 1051.2,261.4 1051.3,259.9 1051.5,263.7 1051.6,261.7 1051.7,261.9 1051.8,261.8 1051.9,262.7 1052.1,261.8 1052.2,263.0 1052.3,255.6 1052.4,255.3 1052.6,256.6 1052.7,254.0 1052.8,251.8 1052.9,250.4 1053.1,256.7 1053.2,254.7 1053.3,256.4 1053.4,252.9 1053.6,251.7 1053.7,250.7 1053.8,250.4 1053.9,250.4 1054.1,248.6 1054.2,250.9 1054.3,257.9 1054.4,258.8 1054.6,261.3 1054.7,262.5 1054.8,258.7 1054.9,259.3 1055.1,261.2 1055.2,257.2 1055.3,256.9 1055.5,249.7 1055.6,211.6 1055.7,180.0 1055.8,215.8 1056.0,250.0 1056.1,259.7 1056.2,261.0 1056.3,253.5 1056.5,248.1 1056.6,253.5 1056.7,262.3 1056.8,263.1 1056.9,272.9 1057.1,272.6 1057.2,275.0 1057.3,277.7 1057.4,280.2 1057.5,287.6 1057.6,288.9 1057.8,294.6 1057.9,307.0 1058.0,320.3 1058.1,327.4 1058.3,329.7 1058.4,338.8 1058.5,348.3 1058.6,355.7 1058.8,365.8 1058.9,371.2 1059.0,382.3 1059.1,375.4 1059.3,368.2 1059.4,362.7 1059.5,357.0 1059.7,351.4 1059.8,349.1 1059.9,353.0 1060.0,347.7 1060.1,350.1 1060.3,345.8 1060.4,346.1 1060.5,341.5 1060.6,335.0 1060.7,330.2 1060.9,325.5 1061.0,328.6 1061.1,325.3 1061.2,321.0 1061.4,320.0 1061.5,319.1 1061.6,320.2 1061.8,316.9 1061.9,311.7 1062.0,310.6 1062.2,312.8 1062.3,312.4 1062.4,313.7 1062.6,317.9 1062.7,318.9 1062.8,317.0 1063.0,320.7 1063.1,320.5 1063.2,322.2 1063.4,319.1 1063.5,313.6 1063.6,309.5 1063.7,311.0 1063.9,310.0 1064.0,311.5 1064.1,308.9 1064.3,305.5 1064.4,301.5 1064.5,299.9 1064.6,297.8 1064.8,295.3 1064.9,293.9 1065.0,296.0 1065.1,291.8 1065.3,288.7 1065.4,288.7 1065.5,289.2 1065.6,279.2 1065.8,275.8 1065.9,275.0 1066.0,273.3 1066.1,275.4 1066.2,273.3 1066.4,281.6 1066.5,286.1 1066.6,289.9 1066.8,290.7 1066.9,293.1 1067.0,293.9 1067.2,295.0 1067.3,294.1 1067.4,294.9 1067.6,290.5 1067.7,283.7 1067.8,287.8 1068.0,286.1 1068.1,281.3 1068.2,277.7 1068.3,282.6 1068.5,277.5 1068.6,274.7 1068.7,273.4 1068.8,271.9 1069.0,275.1 1069.1,272.2 1069.2,271.0 1069.3,270.7 1069.5,272.4 1069.6,273.3 1069.7,272.2 1069.8,266.9 1070.0,265.2 1070.1,263.5 1070.2,264.1 1070.3,266.0 1070.5,272.2 1070.6,265.8 1070.7,260.9 1070.8,260.5 1070.9,263.2 1071.1,266.6 1071.2,265.3 1071.3,263.6 1071.4,261.6 1071.6,258.6 1071.7,257.9 1071.8,250.6 1071.9,252.5 1072.1,249.9 1072.2,252.9 1072.3,256.2 1072.4,258.8 1072.6,250.3 1072.7,250.9 1072.8,251.7 1072.9,247.2 1073.1,244.7 1073.2,245.6 1073.3,243.2 1073.4,243.8 1073.5,248.8 1073.7,248.5 1073.8,255.5 1073.9,256.6 1074.0,259.0 1074.2,258.0 1074.3,257.2 1074.4,259.6 1074.5,264.5 1074.6,263.5 1074.8,260.3 1074.9,264.0 1075.0,271.2 1075.1,271.1 1075.3,271.3 1075.4,271.4 1075.5,273.0 1075.6,266.7 1075.8,266.1 1075.9,269.7 1076.0,269.8 1076.1,264.3 1076.2,255.9 1076.4,253.7 1076.5,254.2 1076.6,253.5 1076.8,253.2 1076.9,250.6 1077.0,244.3 1077.2,243.8 1077.3,242.5 1077.4,243.0 1077.6,247.4 1077.7,253.2 1077.8,258.5 1077.9,270.4 1078.1,263.6 1078.2,265.2 1078.3,258.6 1078.5,251.1 1078.6,251.2 1078.7,245.8 1078.9,241.5 1079.0,238.5 1079.1,239.2 1079.2,237.4 1079.4,234.1 1079.5,237.2 1079.6,234.2 1079.7,235.9 1079.8,235.8 1080.0,229.8 1080.1,229.8 1080.2,231.6 1080.3,231.8 1080.5,236.6 1080.6,231.0 1080.7,230.0 1080.8,228.4 1081.0,225.8 1081.1,223.4 1081.2,224.0 1081.4,215.9 1081.5,214.5 1081.6,212.8 1081.7,214.9 1081.9,217.7 1082.0,210.8 1082.1,209.5 1082.2,206.4 1082.4,205.7 1082.5,204.3 1082.6,207.5 1082.7,205.0 1082.9,208.5 1083.0,209.4 1083.1,205.8 1083.3,201.0 1083.4,191.3 1083.5,191.1 1083.6,194.3 1083.8,195.3 1083.9,193.9 1084.0,195.5 1084.1,195.3 1084.3,192.2 1084.4,193.7 1084.5,191.9 1084.6,193.2 1084.8,199.9 1084.9,193.1 1085.0,194.5 1085.1,194.1 1085.3,201.8 1085.4,205.2 1085.5,203.6 1085.7,205.8 1085.8,205.3 1085.9,194.1 1086.0,195.4 1086.2,191.2 1086.3,186.6 1086.4,187.3 1086.5,198.4 1086.7,193.0 1086.8,195.0 1086.9,188.1 1087.0,180.7 1087.2,179.3 1087.3,182.0 1087.4,184.7 1087.5,192.1 1087.7,195.4 1087.8,194.2 1087.9,190.7 1088.0,190.5 1088.2,193.5 1088.3,193.1 1088.4,193.2 1088.6,187.2 1088.7,182.9 1088.8,188.9 1088.9,181.9 1089.1,183.8 1089.2,188.7 1089.3,187.4 1089.4,184.8 1089.6,186.9 1089.7,183.1 1089.8,183.8 1089.9,187.9 1090.1,184.0 1090.2,191.5 1090.3,190.4 1090.4,187.0 1090.6,190.6 1090.7,190.7 1090.8,180.8 1091.0,185.5 1091.1,180.9 1091.2,184.2 1091.3,179.3 1091.5,177.5 1091.6,176.3 1091.7,179.3 1091.8,175.3 1092.0,174.6 1092.1,174.5 1092.2,176.8 1092.3,176.4 1092.5,172.2 1092.6,169.8 1092.7,174.9 1092.8,177.3 1093.0,175.3 1093.1,174.0 1093.2,173.2 1093.3,167.9 1093.5,165.4 1093.6,170.7 1093.7,168.2 1093.9,171.4 1094.0,170.2 1094.1,173.8 1094.2,168.3 1094.4,169.3 1094.5,173.7 1094.6,172.4 1094.7,173.0 1094.9,170.2 1095.0,166.8 1095.1,164.0 1095.2,164.6 1095.4,161.1 1095.5,160.6 1095.6,159.2 1095.7,163.1 1095.9,160.7 1096.0,160.4 1096.1,163.9 1096.3,160.5 1096.4,163.3 1096.5,164.8 1096.6,164.3 1096.8,164.1 1096.9,159.6 1097.0,161.0 1097.1,161.6 1097.3,164.2 1097.4,154.7 1097.5,158.7 1097.6,157.1 1097.8,161.3 1097.9,164.3 1098.0,162.6 1098.1,161.6 1098.3,161.6 1098.4,164.6 1098.5,155.3 1098.7,153.7 1098.8,157.3 1098.9,158.7 1099.0,157.2 1099.2,155.1 1099.3,155.5 1099.4,160.4 1099.5,153.8 1099.7,158.4 1099.8,164.2 1099.9,151.7 1100.0,153.4 1100.2,154.7 1100.3,155.0 1100.4,158.0 1100.5,157.5 1100.7,151.7 1100.8,152.8 1100.9,152.6 1101.0,151.1 1101.2,151.7 1101.3,149.3 1101.4,153.4 1101.6,152.7 1101.7,153.0 1101.8,150.4 1101.9,152.0 1102.1,151.2 1102.2,153.5 1102.3,150.3 1102.4,145.2 1102.6,150.9 1102.7,145.3 1102.8,148.4 1102.9,143.9 1103.1,148.4 1103.2,145.9 1103.3,147.6 1103.4,150.9 1103.6,145.2 1103.7,146.6 1103.8,142.8 1104.0,140.7 1104.1,139.0 1104.2,137.4 1104.3,140.4 1104.5,144.3 1104.6,144.6 1104.7,144.2 1104.8,143.8 1105.0,142.4 1105.1,140.5 1105.2,140.0 1105.3,137.7 1105.5,139.5 1105.6,144.9 1105.7,138.3 1105.8,139.7 1106.0,138.4 1106.1,141.0 1106.2,141.4 1106.3,135.5 1106.5,141.2 1106.6,146.5 1106.7,153.9 1106.9,152.8 1107.0,154.3 1107.1,152.0 1107.2,153.6 1107.4,151.0 1107.5,156.0 1107.6,156.9 1107.7,153.3 1107.9,164.2 1108.0,152.0 1108.1,152.0 1108.2,153.9 1108.4,156.3 1108.5,152.9 1108.6,152.2 1108.7,147.2 1108.9,144.4 1109.0,147.3 1109.1,143.9 1109.3,147.1 1109.4,145.2 1109.5,141.7 1109.6,146.2 1109.8,145.0 1109.9,138.9 1110.0,137.8 1110.1,142.5 1110.3,142.1 1110.4,134.5 1110.5,129.2 1110.6,136.7 1110.8,131.1 1110.9,132.0 1111.0,129.0 1111.1,131.4 1111.3,140.1 1111.4,139.2 1111.5,134.7 1111.7,138.1 1111.8,140.2 1111.9,140.5 1112.0,138.8 1112.2,138.9 1112.3,137.9 1112.4,138.9 1112.5,141.6 1112.7,141.8 1112.8,155.0 1112.9,153.5 1113.0,146.4 1113.2,155.1 1113.3,156.5 1113.4,154.1 1113.5,156.3 1113.7,155.6 1113.8,154.2 1113.9,152.6 1114.0,150.1 1114.2,151.4 1114.3,152.3 1114.4,149.3 1114.6,143.1 1114.7,149.6 1114.8,145.1 1114.9,138.9 1115.1,139.2 1115.2,138.1 1115.3,137.3 1115.4,137.1 1115.6,135.9 1115.7,137.9 1115.8,136.0 1115.9,137.8 1116.1,134.4 1116.2,135.1 1116.3,139.8 1116.4,132.7 1116.6,133.0 1116.7,132.7 1116.8,137.4 1117.0,133.1 1117.1,139.6 1117.2,143.9 1117.3,147.0 1117.5,150.3 1117.6,150.8 1117.7,154.5 1117.8,153.3 1118.0,161.8 1118.1,167.5 1118.2,176.2 1118.3,169.8 1118.5,179.2 1118.6,178.1 1118.7,175.5 1118.8,177.4 1119.0,174.3 1119.1,170.9 1119.2,170.8 1119.3,170.9 1119.5,171.4 1119.6,170.8 1119.7,166.9 1119.9,164.1 1120.0,151.6 1120.1,149.4 1120.2,147.2 1120.4,151.4 1120.5,151.2 1120.6,152.2 1120.7,161.3 1120.9,163.1 1121.0,166.9 1121.1,180.3 1121.2,185.6 1121.4,188.8 1121.5,192.5 1121.6,199.0 1121.7,198.9 1121.9,203.5 1122.0,202.0 1122.1,202.2 1122.3,196.3 1122.4,180.3 1122.5,176.2 1122.6,179.6 1122.8,171.7 1122.9,171.6 1123.0,166.7 1123.1,164.9 1123.3,159.3 1123.4,158.7 1123.5,156.5 1123.6,158.2 1123.8,157.9 1123.9,159.4 1124.0,169.1 1124.1,176.8 1124.3,178.5 1124.4,178.3 1124.5,181.0 1124.7,178.4 1124.8,179.3 1124.9,178.4 1125.0,178.1 1125.2,180.7 1125.3,180.1 1125.4,183.5 1125.5,184.9 1125.7,188.8 1125.8,194.8 1125.9,192.7 1126.0,193.2 1126.2,192.3 1126.3,200.7 1126.4,208.3 1126.5,210.6 1126.7,205.5 1126.8,209.5 1126.9,207.0 1127.0,208.3 1127.2,218.4 1127.3,219.2 1127.4,218.8 1127.6,218.8 1127.7,219.2 1127.8,223.9 1127.9,221.2 1128.1,228.5 1128.2,228.8 1128.3,232.2 1128.4,230.3 1128.6,219.9 1128.7,218.4 1128.8,206.8 1128.9,207.8 1129.1,202.0 1129.2,205.3 1129.3,210.5 1129.4,217.6 1129.6,223.6 1129.7,228.0 1129.8,226.0 1130.0,221.7 1130.1,226.0 1130.2,228.0 1130.3,232.0 1130.5,240.4 1130.6,248.6 1130.7,250.2 1130.8,248.7 1131.0,244.1 1131.1,240.2 1131.2,231.9 1131.3,233.9 1131.5,239.5 1131.6,233.6 1131.7,234.2 1131.8,231.1 1132.0,232.1 1132.1,232.0 1132.2,236.4 1132.3,239.7 1132.5,238.2 1132.6,240.6 1132.7,238.3 1132.9,238.4 1133.0,241.4 1133.1,243.7 1133.2,243.7 1133.4,235.9 1133.5,234.4 1133.6,234.9 1133.7,225.8 1133.9,218.5 1134.0,219.6 1134.1,218.4 1134.2,219.9 1134.4,214.0 1134.5,205.5 1134.6,203.7 1134.7,198.1 1134.9,200.9 1135.0,202.8 1135.1,201.3 1135.3,202.6 1135.4,200.8 1135.5,204.7 1135.6,209.2 1135.8,208.6 1135.9,213.3 1136.0,212.4 1136.1,212.1 1136.3,214.0 1136.4,221.0 1136.5,221.5 1136.6,221.0 1136.8,218.9 1136.9,220.9 1137.0,220.4 1137.1,221.8 1137.3,218.9 1137.4,219.9 1137.5,220.3 1137.7,219.7 1137.8,220.7 1137.9,228.0 1138.0,229.0 1138.2,231.2 1138.3,233.2 1138.4,240.5 1138.5,242.9 1138.7,246.2 1138.8,243.5 1138.9,246.8 1139.0,244.0 1139.2,243.6 1139.3,246.3 1139.4,251.4 1139.5,254.9 1139.7,263.9 1139.8,266.8 1139.9,265.6 1140.0,263.7 1140.2,271.1 1140.3,265.1 1140.4,270.5 1140.6,268.1 1140.7,271.5 1140.8,272.7 1140.9,273.3 1141.1,264.0 1141.2,260.6 1141.3,262.5 1141.4,265.8 1141.6,266.3 1141.7,263.3 1141.8,262.3 1141.9,256.3 1142.1,254.6 1142.2,252.0 1142.3,252.3 1142.4,250.5 1142.6,250.3 1142.7,247.3 1142.8,247.2 1143.0,254.9 1143.1,248.2 1143.2,246.2 1143.3,244.7 1143.5,243.0 1143.6,235.8 1143.7,232.9 1143.8,230.1 1144.0,226.0 1144.1,225.0 1144.2,223.8 1144.3,226.6 1144.5,227.1 1144.6,219.6 1144.7,224.0 1144.8,220.5 1145.0,225.0 1145.1,221.8 1145.2,217.2 1145.3,220.8 1145.5,222.4 1145.6,223.6 1145.7,224.0 1145.9,223.9 1146.0,225.9 1146.1,219.4 1146.2,226.0 1146.4,228.1 1146.5,233.8 1146.6,232.8 1146.7,234.4 1146.9,224.6 1147.0,227.0 1147.1,226.9 1147.2,231.2 1147.4,236.5 1147.5,237.4 1147.6,238.1 1147.7,239.0 1147.9,235.7 1148.0,238.8 1148.1,236.6 1148.3,234.6 1148.4,229.3 1148.5,219.0 1148.6,219.8 1148.8,221.0 1148.9,215.4 1149.0,213.6 1149.1,206.3 1149.3,197.8 1149.4,198.3 1149.5,201.3 1149.6,204.6 1149.8,195.3 1149.9,198.2 1150.0,199.7 1150.1,200.8 1150.3,198.3 1150.4,207.4 1150.5,206.1 1150.7,202.9 1150.8,205.7 1150.9,205.1 1151.0,209.7 1151.2,207.6 1151.3,203.3 1151.4,201.1 1151.5,208.3 1151.7,210.9 1151.8,212.6 1151.9,215.5 1152.0,212.4 1152.2,216.0 1152.3,215.1 1152.4,217.5 1152.5,219.0 1152.7,221.7 1152.8,221.0 1152.9,223.6 1153.0,221.2 1153.2,224.2 1153.3,223.7 1153.4,226.5 1153.6,231.3 1153.7,230.2 1153.8,231.1 1153.9,228.4 1154.1,233.1 1154.2,233.6 1154.3,225.6 1154.4,223.3 1154.6,218.1 1154.7,226.3 1154.8,220.6 1154.9,212.9 1155.1,213.4 1155.2,211.0 1155.3,209.3 1155.4,205.6 1155.6,203.0 1155.7,213.3 1155.8,214.4 1156.0,212.0 1156.1,203.9 1156.2,204.2 1156.3,204.6 1156.5,210.2 1156.6,204.0 1156.7,204.4 1156.8,204.8 1157.0,205.6 1157.1,206.9 1157.2,206.5 1157.3,204.8 1157.5,207.4 1157.6,209.6 1157.7,210.4 1157.8,208.9 1158.0,204.8 1158.1,209.7 1158.2,207.8 1158.3,209.2 1158.5,208.3 1158.6,210.2 1158.7,209.4 1158.9,205.8 1159.0,206.8 1159.1,207.8 1159.2,206.2 1159.4,208.2 1159.5,207.1 1159.6,207.1 1159.7,207.7 1159.9,205.2 1160.0,208.4 1160.1,208.3 1160.2,195.7 1160.4,195.3 1160.5,196.1 1160.6,198.4 1160.7,197.4 1160.9,198.0 1161.0,199.1 1161.1,194.7 1161.3,197.7 1161.4,195.7 1161.5,182.8 1161.6,183.5 1161.8,183.1 1161.9,183.6 1162.0,188.3 1162.1,195.8 1162.3,188.0 1162.4,186.4 1162.5,193.2 1162.6,193.1 1162.8,191.0 1162.9,184.4 1163.0,184.8 1163.1,191.6 1163.3,191.9 1163.4,191.1 1163.5,193.5 1163.7,194.5 1163.8,192.1 1163.9,189.6 1164.0,193.8 1164.2,193.2 1164.3,181.7 1164.4,173.8 1164.5,168.1 1164.7,171.5 1164.8,174.9 1164.9,181.2 1165.0,175.2 1165.2,178.1 1165.3,178.1 1165.4,170.5 1165.5,173.0 1165.7,172.1 1165.8,169.1 1165.9,173.6 1166.0,168.6 1166.2,173.2 1166.3,174.2 1166.4,174.8 1166.6,174.2 1166.7,180.6 1166.8,184.1 1166.9,181.6 1167.1,180.6 1167.2,179.7 1167.3,179.4 1167.4,179.3 1167.6,183.7 1167.7,183.8 1167.8,185.7 1167.9,188.2 1168.1,184.4 1168.2,189.1 1168.3,181.9 1168.4,184.6 1168.6,188.9 1168.7,188.0 1168.8,189.2 1169.0,183.6 1169.1,188.0 1169.2,183.1 1169.3,184.0 1169.5,181.1 1169.6,184.4 1169.7,186.1 1169.8,184.2 1170.0,181.2 1170.1,185.1 1170.2,184.8 1170.3,191.1 1170.5,195.7 1170.6,198.9 1170.7,196.3 1170.8,197.2 1171.0,199.8 1171.1,200.9 1171.2,195.4 1171.3,196.7 1171.5,208.2 1171.6,206.9 1171.7,208.3 1171.9,205.4 1172.0,205.3 1172.1,199.9 1172.2,201.3 1172.4,204.7 1172.5,200.8 1172.6,209.0 1172.7,202.7 1172.9,198.9 1173.0,200.7 1173.1,203.3 1173.2,204.3 1173.4,212.1 1173.5,221.0 1173.6,218.4 1173.7,220.4 1173.9,217.0 1174.0,221.6 1174.1,208.5 1174.3,203.3 1174.4,200.2 1174.5,195.7 1174.6,190.5 1174.8,188.1 1174.9,183.9 1175.0,185.4 1175.1,182.6 1175.3,188.9 1175.4,195.1 1175.5,186.3 1175.6,178.6 1175.8,183.2 1175.9,186.8 1176.0,180.6 1176.1,174.0 1176.3,177.8 1176.4,170.8 1176.5,169.7 1176.7,169.5 1176.8,169.5 1176.9,174.6 1177.0,176.4 1177.2,168.5 1177.3,169.4 1177.4,173.6 1177.5,170.5 1177.7,172.3 1177.8,165.8 1177.9,165.7 1178.0,162.1 1178.2,161.2 1178.3,160.7 1178.4,160.2 1178.5,162.8 1178.7,157.4 1178.8,167.2 1178.9,166.0 1179.0,157.9 1179.2,157.2 1179.3,158.6 1179.4,162.3 1179.6,159.0 1179.7,158.5 1179.8,160.9 1179.9,160.0 1180.1,165.6 1180.2,161.8 1180.3,165.4 1180.4,163.8 1180.6,162.6 1180.7,167.2 1180.8,161.5 1180.9,158.5 1181.1,155.1 1181.2,155.9 1181.3,158.6 1181.4,155.2 1181.6,155.3 1181.7,154.3 1181.8,154.0 1181.9,145.5 1182.1,148.2 1182.2,143.6 1182.3,147.6 1182.4,146.7 1182.5,145.5 1182.7,140.1 1182.8,140.2 1182.9,142.9 1183.0,139.8 1183.2,142.5 1183.3,138.2 1183.4,133.3 1183.5,131.8 1183.7,138.1 1183.8,133.0 1183.9,134.2 1184.0,132.9 1184.1,132.4 1184.3,133.6 1184.4,136.8 1184.5,133.6 1184.6,130.6 1184.8,132.1 1184.9,131.2 1185.0,129.9 1185.1,132.4 1185.3,133.2 1185.4,128.9 1185.5,121.6 1185.6,121.2 1185.7,128.3 1185.9,126.5 1186.0,125.1 1186.1,123.5 1186.2,125.6 1186.4,120.6 1186.5,120.8 1186.6,122.5 1186.7,123.9 1186.9,127.0 1187.0,126.0 1187.1,122.2 1187.2,126.0 1187.4,121.9 1187.5,121.7 1187.6,127.4 1187.7,129.0 1187.9,127.7 1188.0,133.9 1188.1,134.4 1188.3,142.3 1188.4,142.4 1188.5,145.7 1188.7,142.1 1188.8,145.8 1188.9,143.8 1189.1,147.4 1189.2,139.8 1189.3,138.4 1189.4,137.7 1189.5,138.8 1189.7,141.1 1189.8,137.5 1189.9,138.8 1190.0,137.6 1190.2,137.5 1190.3,138.4 1190.4,137.9 1190.5,128.8 1190.7,126.2 1190.8,123.0 1190.9,123.7 1191.0,115.9 1191.2,121.0 1191.3,115.1 1191.4,121.0 1191.5,120.2 1191.7,118.2 1191.8,116.1 1191.9,115.9 1192.0,115.0 1192.2,116.7 1192.3,121.0 1192.4,119.8 1192.5,120.1 1192.7,119.2 1192.8,110.2 1192.9,110.7 1193.0,109.6 1193.2,111.4 1193.3,113.3 1193.4,112.9 1193.5,114.2 1193.7,114.1 1193.8,110.9 1193.9,108.9 1194.0,111.5 1194.2,108.8 1194.3,108.5 1194.4,109.0 1194.6,108.8 1194.7,108.9 1194.8,111.2 1195.0,109.0 1195.1,105.8 1195.2,104.5 1195.4,99.6 1195.5,104.5 1195.6,101.7 1195.8,100.1 1195.9,100.8 1196.0,96.5 1196.1,94.0 1196.3,99.7 1196.4,100.8 1196.5,95.1 1196.6,101.0 1196.7,91.2 1196.9,92.0 1197.0,89.3 1197.1,92.9 1197.3,99.7 1197.4,104.8 1197.5,108.0 1197.7,117.0 1197.8,109.6 1197.9,117.5 1198.0,122.7 1198.2,126.1 1198.3,132.4 1198.4,127.3 1198.5,136.6 1198.7,139.5 1198.8,128.9 1198.9,129.2 1199.0,127.2 1199.2,113.0 1199.3,110.0 1199.4,103.3 1199.6,103.6 1199.7,105.0 1199.8,100.4 1199.9,96.4 1200.0,99.0 1200.2,91.2 1200.3,92.2 1200.4,96.7 1200.5,103.6 1200.7,108.4 1200.8,105.7 1200.9,109.9 1201.0,108.3 1201.2,107.9 1201.3,109.0 1201.4,111.2 1201.5,111.8 1201.7,108.6 1201.8,109.0 1201.9,101.7 1202.0,88.4 1202.1,91.2 1202.3,90.2 1202.4,82.3 1202.5,76.4 1202.6,79.7 1202.8,79.9 1202.9,86.9 1203.0,88.3 1203.1,84.3 1203.3,77.4 1203.4,76.5 1203.5,77.5 1203.6,74.3 1203.8,78.1 1203.9,75.8 1204.0,78.2 1204.2,77.6 1204.3,76.9 1204.4,75.4 1204.6,72.8 1204.7,75.4 1204.8,75.4 1204.9,78.6 1205.1,75.0 1205.2,77.0 1205.3,78.1 1205.4,81.3 1205.6,87.9 1205.7,91.2 1205.8,90.2 1205.9,83.1 1206.1,76.6 1206.2,79.3 1206.3,85.6 1206.4,83.9 1206.6,88.2 1206.7,71.6 1206.8,71.5 1206.9,74.1 1207.1,78.8 1207.2,82.6 1207.3,82.4 1207.4,78.4 1207.6,70.3 1207.7,76.6 1207.8,69.8 1207.9,74.8 1208.1,80.6 1208.2,81.4 1208.3,79.1 1208.4,70.8 1208.6,70.3 1208.7,64.7 1208.8,75.7 1208.9,73.7 1209.0,72.0 1209.2,64.6 1209.3,78.7 1209.4,78.1 1209.5,79.7 1209.7,71.7 1209.8,75.1 1209.9,88.8 1210.1,85.1 1210.2,86.4 1210.3,85.5 1210.4,87.4 1210.6,86.3 1210.7,76.3 1210.8,74.5 1210.9,77.4 1211.0,78.9 1211.2,80.0 1211.3,75.0 1211.4,73.7 1211.5,74.4 1211.7,71.8 1211.8,76.9 1211.9,88.6 1212.0,83.8 1212.2,86.5 1212.3,90.2 1212.4,89.1 1212.5,92.2 1212.6,93.1 1212.8,88.3 1212.9,89.3 1213.0,85.3 1213.1,84.0 1213.3,77.5 1213.4,67.1 1213.5,66.6 1213.6,68.1 1213.8,66.8 1213.9,67.7 1214.0,65.5 1214.2,65.8 1214.3,72.1 1214.4,67.2 1214.6,69.4 1214.7,71.5 1214.8,71.4 1214.9,68.8 1215.1,71.0 1215.2,73.5 1215.3,72.8 1215.4,65.2 1215.6,57.7 1215.7,56.7 1215.8,60.1 1215.9,59.0 1216.1,55.8 1216.2,56.1 1216.3,55.8 1216.4,55.8 1216.5,62.3 1216.7,74.4 1216.8,79.5 1216.9,85.5 1217.0,82.9 1217.2,79.6 1217.3,83.2 1217.4,85.7 1217.5,83.8 1217.7,84.3 1217.8,90.2 1217.9,89.9 1218.0,89.6 1218.2,90.3 1218.3,86.4 1218.4,98.1 1218.6,91.0 1218.7,94.7 1218.8,93.3 1218.9,80.9 1219.0,80.4 1219.2,93.0 1219.3,96.1 1219.4,104.3 1219.5,102.4 1219.6,113.9 1219.8,121.8 1219.9,129.0 1220.0,150.4 1220.1,145.7 1220.3,137.6 1220.4,135.8 1220.5,118.1 1220.6,110.0 1220.7,112.6 1220.9,108.1 1221.0,114.9 1221.1,115.3 1221.3,109.5 1221.4,121.8 1221.5,119.1 1221.7,117.0 1221.8,112.6 1221.9,99.8 1222.1,96.2 1222.2,82.3 1222.3,81.8 1222.5,83.0 1222.6,76.8 1222.7,78.3 1222.8,82.3 1223.0,82.9 1223.1,77.2 1223.2,73.8 1223.4,68.5 1223.5,70.2 1223.6,67.5 1223.8,70.4 1223.9,68.6 1224.0,69.9 1224.2,69.8 1224.3,60.8 1224.4,60.3 1224.6,56.7 1224.7,55.8 1224.8,56.8 1225.0,55.8 1225.1,56.0 1225.2,57.5 1225.3,54.7"/>
<text class="t8" x="1225.6" y="52.8">04-Jun</text>
<!-- legend -->
<rect x="113.7" y="35.3" width="119.6" height="39" rx="2.3" ry="2.3" fill="#fff" fill-opacity="0.8" stroke="#ccc" stroke-opacity="0.8" stroke-width="0.92"/>
<path d="M118.5,45h24.5" stroke="#000" stroke-width="1.0" fill="none"/>
<path d="M124.72,58.67l11.66,11.66M124.72,70.33l11.66,-11.66" stroke="#1e8c1e" stroke-width="1.75" fill="none"/>
<text class="t10" x="151.2" y="49.8">Close Price</text>
<text class="t10" x="151.2" y="67.2">All-Time High</text>
</svg>
</body>
</html>
